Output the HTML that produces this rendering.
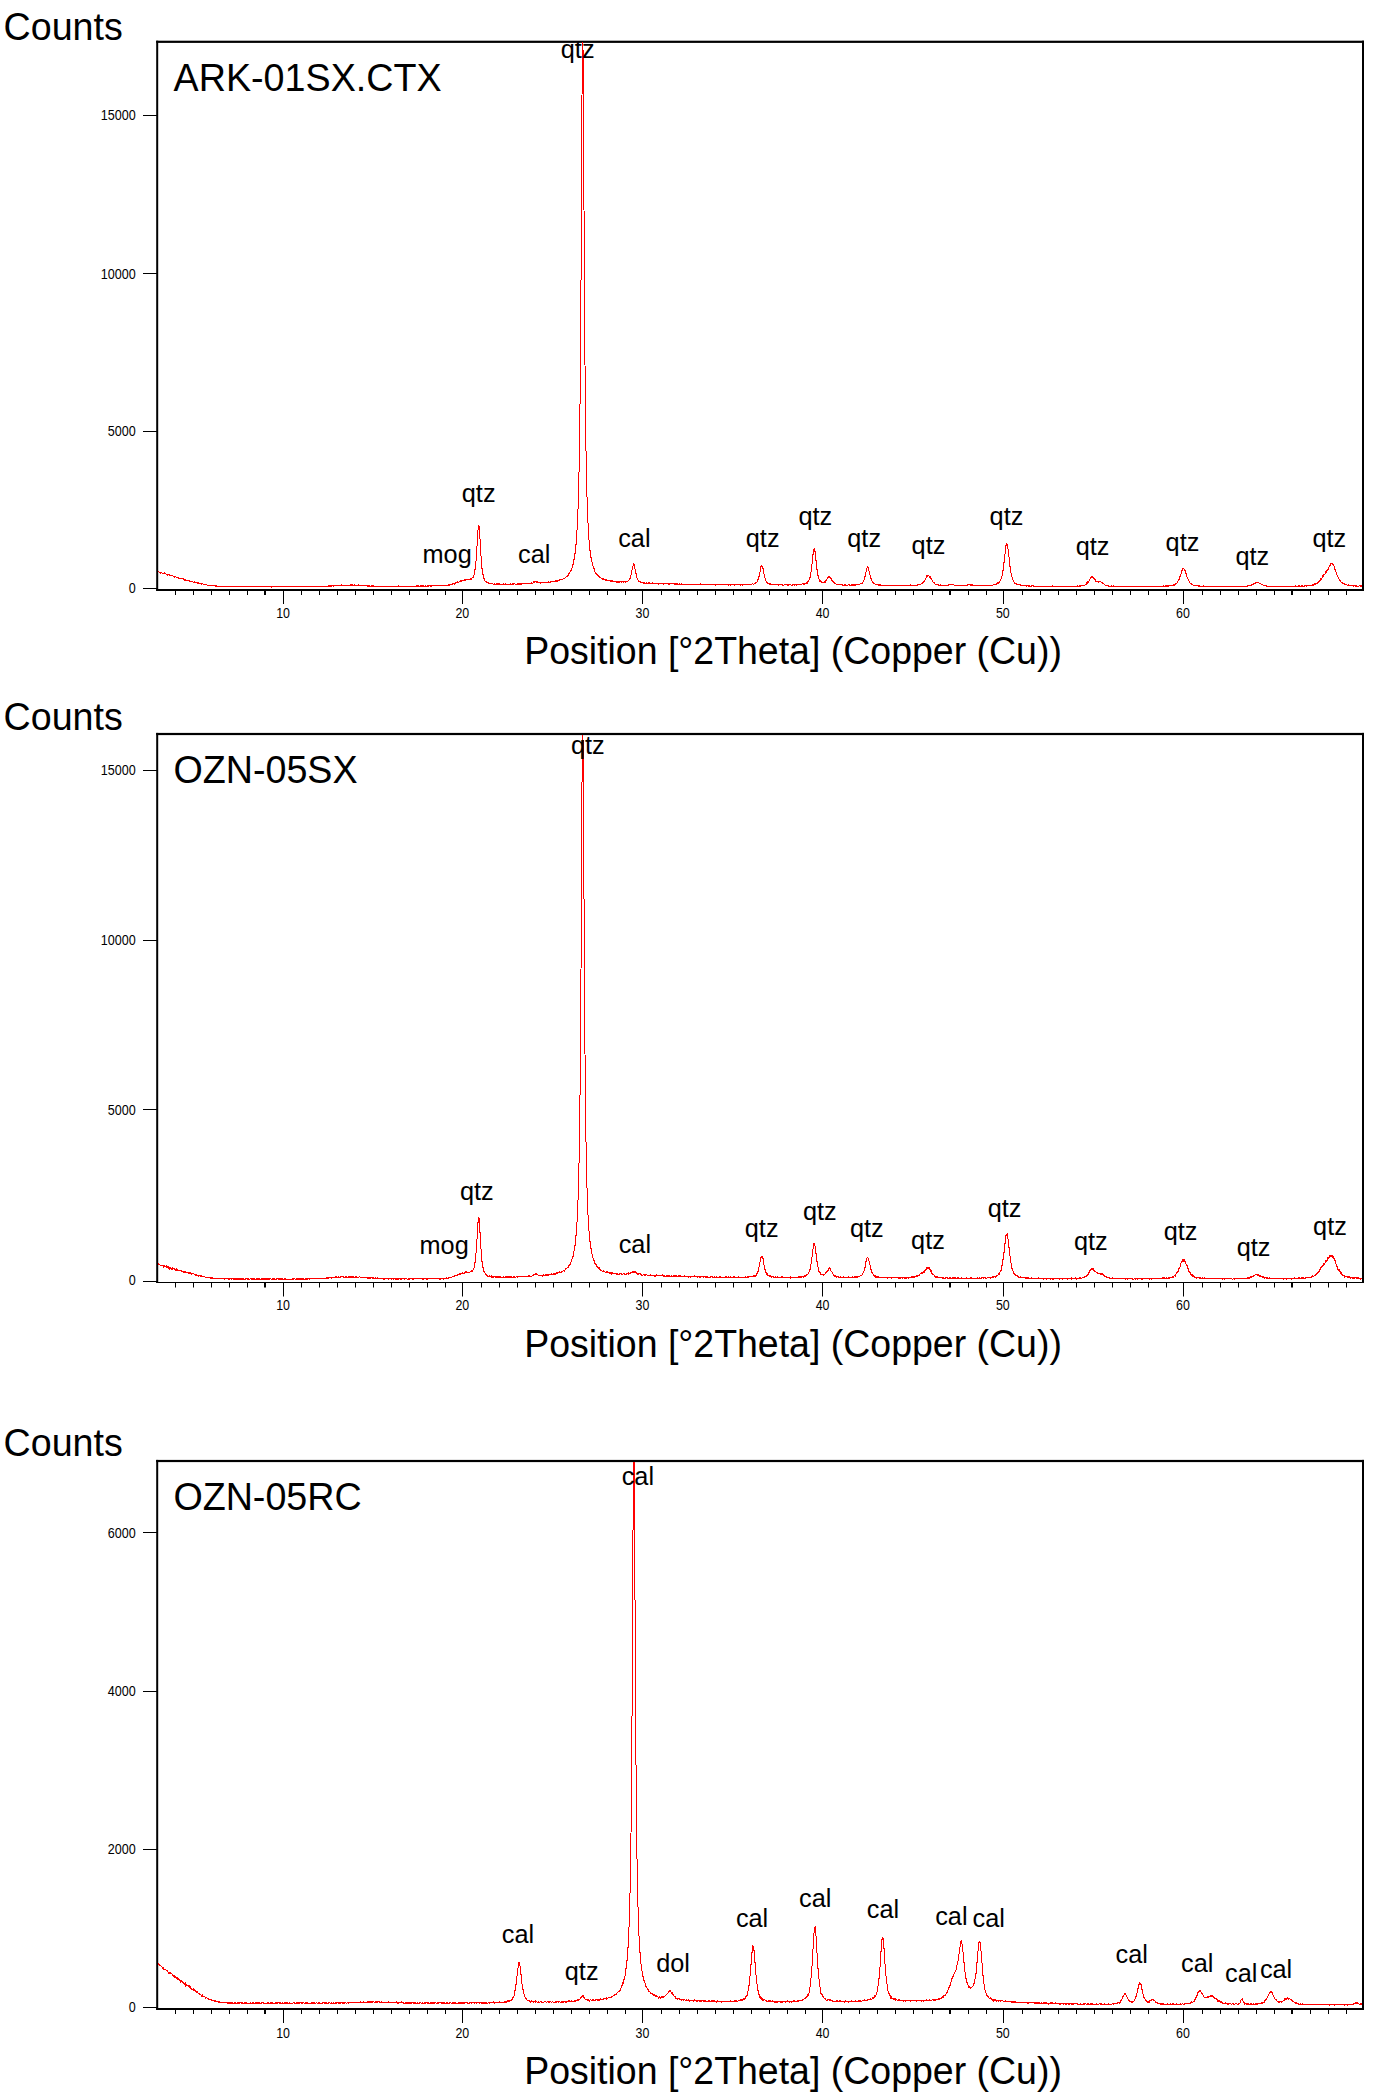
<!DOCTYPE html>
<html><head><meta charset="utf-8"><title>XRD patterns</title>
<style>
html,body{margin:0;padding:0;background:#fff;}
svg{display:block;font-family:'Liberation Sans', sans-serif;}
</style></head>
<body>
<svg width="1383" height="2100" viewBox="0 0 1383 2100" font-family='"Liberation Sans", sans-serif'>
<rect width="1383" height="2100" fill="#fff"/>
<rect x="156.2" y="40.7" width="1207.8" height="2.2" fill="#000"/>
<rect x="156.2" y="589" width="1207.8" height="2" fill="#000"/>
<rect x="156.2" y="40.7" width="2" height="550.3" fill="#000"/>
<rect x="1362.0" y="40.7" width="2" height="550.3" fill="#000"/>
<rect x="143" y="115" width="14" height="1" fill="#000"/>
<text x="100.7" y="120.1" font-size="15" textLength="35.0" lengthAdjust="spacingAndGlyphs" fill="#000">15000</text>
<rect x="143" y="273" width="14" height="1" fill="#000"/>
<text x="100.7" y="278.5" font-size="15" textLength="35.0" lengthAdjust="spacingAndGlyphs" fill="#000">10000</text>
<rect x="143" y="431" width="14" height="1" fill="#000"/>
<text x="107.7" y="436.0" font-size="15" textLength="28.0" lengthAdjust="spacingAndGlyphs" fill="#000">5000</text>
<rect x="143" y="588" width="14" height="1" fill="#000"/>
<text x="128.7" y="593.0" font-size="15" textLength="7.0" lengthAdjust="spacingAndGlyphs" fill="#000">0</text>
<rect x="175" y="590.0" width="1" height="5" fill="#000"/>
<rect x="193" y="590.0" width="1" height="5" fill="#000"/>
<rect x="211" y="590.0" width="1" height="5" fill="#000"/>
<rect x="229" y="590.0" width="1" height="5" fill="#000"/>
<rect x="247" y="590.0" width="1" height="5" fill="#000"/>
<rect x="264" y="590.0" width="2" height="5" fill="#000"/>
<rect x="283" y="590.0" width="1" height="14" fill="#000"/>
<text x="276.2" y="618.0" font-size="15" textLength="13.8" lengthAdjust="spacingAndGlyphs" fill="#000">10</text>
<rect x="301" y="590.0" width="1" height="5" fill="#000"/>
<rect x="319" y="590.0" width="1" height="5" fill="#000"/>
<rect x="337" y="590.0" width="1" height="5" fill="#000"/>
<rect x="355" y="590.0" width="1" height="5" fill="#000"/>
<rect x="373" y="590.0" width="1" height="5" fill="#000"/>
<rect x="391" y="590.0" width="1" height="5" fill="#000"/>
<rect x="409" y="590.0" width="1" height="5" fill="#000"/>
<rect x="427" y="590.0" width="1" height="5" fill="#000"/>
<rect x="445" y="590.0" width="1" height="5" fill="#000"/>
<rect x="462" y="590.0" width="1" height="14" fill="#000"/>
<text x="455.4" y="618.0" font-size="15" textLength="13.8" lengthAdjust="spacingAndGlyphs" fill="#000">20</text>
<rect x="481" y="590.0" width="1" height="5" fill="#000"/>
<rect x="499" y="590.0" width="1" height="5" fill="#000"/>
<rect x="517" y="590.0" width="1" height="5" fill="#000"/>
<rect x="535" y="590.0" width="1" height="5" fill="#000"/>
<rect x="553" y="590.0" width="1" height="5" fill="#000"/>
<rect x="571" y="590.0" width="1" height="5" fill="#000"/>
<rect x="589" y="590.0" width="1" height="5" fill="#000"/>
<rect x="607" y="590.0" width="1" height="5" fill="#000"/>
<rect x="625" y="590.0" width="1" height="5" fill="#000"/>
<rect x="642" y="590.0" width="1" height="14" fill="#000"/>
<text x="635.5" y="618.0" font-size="15" textLength="13.8" lengthAdjust="spacingAndGlyphs" fill="#000">30</text>
<rect x="661" y="590.0" width="1" height="5" fill="#000"/>
<rect x="679" y="590.0" width="1" height="5" fill="#000"/>
<rect x="697" y="590.0" width="1" height="5" fill="#000"/>
<rect x="715" y="590.0" width="1" height="5" fill="#000"/>
<rect x="733" y="590.0" width="1" height="5" fill="#000"/>
<rect x="751" y="590.0" width="1" height="5" fill="#000"/>
<rect x="769" y="590.0" width="1" height="5" fill="#000"/>
<rect x="787" y="590.0" width="1" height="5" fill="#000"/>
<rect x="805" y="590.0" width="1" height="5" fill="#000"/>
<rect x="822" y="590.0" width="1" height="14" fill="#000"/>
<text x="815.7" y="618.0" font-size="15" textLength="13.8" lengthAdjust="spacingAndGlyphs" fill="#000">40</text>
<rect x="841" y="590.0" width="1" height="5" fill="#000"/>
<rect x="859" y="590.0" width="1" height="5" fill="#000"/>
<rect x="877" y="590.0" width="1" height="5" fill="#000"/>
<rect x="895" y="590.0" width="1" height="5" fill="#000"/>
<rect x="913" y="590.0" width="1" height="5" fill="#000"/>
<rect x="932" y="590.0" width="1" height="5" fill="#000"/>
<rect x="949" y="590.0" width="2" height="5" fill="#000"/>
<rect x="968" y="590.0" width="1" height="5" fill="#000"/>
<rect x="986" y="590.0" width="1" height="5" fill="#000"/>
<rect x="1003" y="590.0" width="1" height="14" fill="#000"/>
<text x="995.9" y="618.0" font-size="15" textLength="13.8" lengthAdjust="spacingAndGlyphs" fill="#000">50</text>
<rect x="1022" y="590.0" width="1" height="5" fill="#000"/>
<rect x="1040" y="590.0" width="1" height="5" fill="#000"/>
<rect x="1058" y="590.0" width="1" height="5" fill="#000"/>
<rect x="1076" y="590.0" width="1" height="5" fill="#000"/>
<rect x="1094" y="590.0" width="1" height="5" fill="#000"/>
<rect x="1112" y="590.0" width="1" height="5" fill="#000"/>
<rect x="1130" y="590.0" width="1" height="5" fill="#000"/>
<rect x="1148" y="590.0" width="1" height="5" fill="#000"/>
<rect x="1166" y="590.0" width="1" height="5" fill="#000"/>
<rect x="1183" y="590.0" width="1" height="14" fill="#000"/>
<text x="1176.0" y="618.0" font-size="15" textLength="13.8" lengthAdjust="spacingAndGlyphs" fill="#000">60</text>
<rect x="1202" y="590.0" width="1" height="5" fill="#000"/>
<rect x="1220" y="590.0" width="1" height="5" fill="#000"/>
<rect x="1238" y="590.0" width="1" height="5" fill="#000"/>
<rect x="1256" y="590.0" width="1" height="5" fill="#000"/>
<rect x="1274" y="590.0" width="1" height="5" fill="#000"/>
<rect x="1291" y="590.0" width="2" height="5" fill="#000"/>
<rect x="1310" y="590.0" width="1" height="5" fill="#000"/>
<rect x="1328" y="590.0" width="1" height="5" fill="#000"/>
<rect x="1346" y="590.0" width="1" height="5" fill="#000"/>
<text x="3.6" y="39.8" font-size="38" text-anchor="start" textLength="119.2" lengthAdjust="spacingAndGlyphs">Counts</text>
<text x="173.6" y="91.0" font-size="38" text-anchor="start" textLength="268.0" lengthAdjust="spacingAndGlyphs">ARK-01SX.CTX</text>
<text x="524.2" y="664.0" font-size="38" text-anchor="start" textLength="537.7" lengthAdjust="spacingAndGlyphs">Position [°2Theta] (Copper (Cu))</text>
<polyline points="158.5,571.5 159.5,572.5 160.5,572.5 160.5,573.5 161.5,572.5 162.5,573.5 163.5,573.5 164.5,572.5 164.5,573.5 165.5,573.5 166.5,574.5 167.5,574.5 167.5,575.5 168.5,574.5 169.5,574.5 169.5,575.5 170.5,575.5 171.5,575.5 172.5,575.5 173.5,576.5 174.5,576.5 174.5,577.5 175.5,576.5 176.5,577.5 177.5,577.5 178.5,578.5 178.5,577.5 178.5,578.5 178.5,577.5 179.5,578.5 180.5,578.5 181.5,578.5 182.5,578.5 183.5,578.5 183.5,579.5 184.5,579.5 184.5,580.5 184.5,579.5 185.5,579.5 185.5,580.5 185.5,579.5 186.5,580.5 187.5,580.5 188.5,580.5 189.5,580.5 189.5,581.5 189.5,580.5 190.5,581.5 191.5,581.5 192.5,581.5 193.5,582.5 193.5,581.5 193.5,582.5 194.5,581.5 194.5,582.5 195.5,582.5 196.5,582.5 197.5,582.5 197.5,583.5 197.5,582.5 198.5,583.5 198.5,582.5 198.5,583.5 198.5,582.5 199.5,583.5 200.5,583.5 201.5,583.5 201.5,584.5 202.5,583.5 203.5,584.5 204.5,584.5 205.5,584.5 206.5,584.5 207.5,585.5 208.5,585.5 209.5,585.5 210.5,585.5 211.5,585.5 212.5,585.5 213.5,585.5 214.5,585.5 215.5,585.5 215.5,586.5 216.5,585.5 216.5,586.5 216.5,585.5 217.5,586.5 218.5,586.5 219.5,586.5 220.5,586.5 221.5,586.5 222.5,586.5 223.5,586.5 224.5,586.5 225.5,586.5 226.5,586.5 227.5,586.5 228.5,586.5 229.5,586.5 230.5,586.5 231.5,586.5 232.5,586.5 233.5,586.5 234.5,586.5 235.5,586.5 236.5,586.5 237.5,586.5 238.5,586.5 239.5,586.5 240.5,586.5 241.5,586.5 242.5,586.5 243.5,586.5 244.5,586.5 245.5,586.5 246.5,586.5 247.5,586.5 248.5,586.5 249.5,586.5 250.5,586.5 251.5,586.5 252.5,586.5 253.5,586.5 254.5,586.5 255.5,586.5 256.5,586.5 257.5,586.5 258.5,586.5 259.5,586.5 260.5,586.5 261.5,586.5 262.5,586.5 263.5,586.5 264.5,586.5 265.5,586.5 266.5,586.5 267.5,586.5 268.5,586.5 269.5,586.5 270.5,586.5 271.5,586.5 271.5,587.5 271.5,586.5 272.5,586.5 273.5,586.5 274.5,586.5 275.5,586.5 276.5,586.5 277.5,586.5 278.5,586.5 279.5,586.5 280.5,586.5 281.5,586.5 282.5,586.5 283.5,586.5 284.5,586.5 285.5,586.5 286.5,586.5 287.5,586.5 288.5,586.5 289.5,586.5 290.5,586.5 291.5,586.5 292.5,586.5 293.5,586.5 294.5,586.5 295.5,586.5 296.5,586.5 297.5,586.5 298.5,586.5 299.5,586.5 300.5,586.5 301.5,586.5 302.5,586.5 303.5,586.5 304.5,586.5 305.5,586.5 306.5,586.5 307.5,586.5 308.5,586.5 309.5,586.5 310.5,586.5 311.5,586.5 312.5,586.5 313.5,586.5 314.5,586.5 315.5,586.5 316.5,586.5 317.5,586.5 318.5,586.5 319.5,586.5 320.5,586.5 321.5,586.5 322.5,586.5 323.5,586.5 324.5,586.5 325.5,586.5 326.5,586.5 327.5,586.5 327.5,585.5 327.5,586.5 328.5,586.5 328.5,585.5 328.5,586.5 328.5,585.5 329.5,586.5 329.5,585.5 329.5,586.5 329.5,585.5 330.5,585.5 330.5,586.5 331.5,585.5 331.5,586.5 331.5,585.5 332.5,585.5 333.5,585.5 333.5,586.5 333.5,585.5 334.5,585.5 335.5,585.5 336.5,585.5 337.5,585.5 338.5,585.5 339.5,585.5 340.5,585.5 341.5,584.5 341.5,585.5 342.5,585.5 343.5,585.5 344.5,585.5 345.5,585.5 346.5,585.5 347.5,585.5 347.5,584.5 347.5,585.5 348.5,585.5 349.5,585.5 350.5,585.5 350.5,584.5 350.5,585.5 350.5,584.5 351.5,584.5 351.5,585.5 351.5,584.5 352.5,584.5 352.5,585.5 353.5,585.5 354.5,584.5 354.5,585.5 355.5,585.5 355.5,584.5 355.5,585.5 356.5,585.5 357.5,585.5 358.5,584.5 358.5,585.5 359.5,585.5 360.5,585.5 361.5,585.5 362.5,585.5 363.5,585.5 364.5,585.5 365.5,585.5 366.5,585.5 367.5,585.5 367.5,586.5 367.5,585.5 368.5,585.5 368.5,586.5 368.5,585.5 369.5,585.5 369.5,586.5 370.5,586.5 371.5,586.5 371.5,585.5 371.5,586.5 371.5,585.5 372.5,586.5 372.5,585.5 372.5,586.5 372.5,585.5 373.5,585.5 373.5,586.5 374.5,586.5 375.5,586.5 376.5,586.5 377.5,586.5 378.5,586.5 379.5,586.5 380.5,586.5 381.5,586.5 382.5,586.5 383.5,586.5 384.5,586.5 385.5,586.5 386.5,586.5 387.5,586.5 388.5,586.5 389.5,586.5 390.5,586.5 391.5,586.5 392.5,586.5 393.5,586.5 394.5,586.5 395.5,586.5 396.5,586.5 397.5,586.5 398.5,585.5 398.5,586.5 399.5,586.5 400.5,586.5 401.5,586.5 401.5,585.5 401.5,586.5 402.5,586.5 403.5,586.5 404.5,586.5 405.5,586.5 406.5,586.5 407.5,586.5 408.5,586.5 409.5,586.5 409.5,585.5 409.5,586.5 410.5,586.5 411.5,586.5 412.5,586.5 412.5,585.5 412.5,586.5 413.5,586.5 414.5,586.5 415.5,586.5 415.5,585.5 415.5,586.5 416.5,586.5 416.5,585.5 416.5,586.5 416.5,585.5 417.5,585.5 417.5,586.5 418.5,586.5 418.5,585.5 418.5,586.5 418.5,585.5 419.5,586.5 419.5,585.5 419.5,586.5 420.5,586.5 420.5,585.5 420.5,586.5 420.5,585.5 421.5,586.5 421.5,585.5 421.5,586.5 421.5,585.5 422.5,585.5 422.5,586.5 422.5,585.5 423.5,585.5 423.5,586.5 423.5,585.5 424.5,586.5 424.5,585.5 424.5,586.5 425.5,585.5 425.5,586.5 426.5,586.5 426.5,585.5 426.5,586.5 427.5,585.5 427.5,586.5 427.5,585.5 428.5,586.5 428.5,585.5 428.5,586.5 428.5,585.5 429.5,585.5 430.5,585.5 430.5,586.5 431.5,585.5 431.5,586.5 432.5,585.5 433.5,585.5 434.5,585.5 435.5,585.5 436.5,585.5 437.5,585.5 438.5,585.5 439.5,585.5 440.5,585.5 441.5,585.5 442.5,585.5 443.5,585.5 444.5,585.5 445.5,585.5 446.5,585.5 447.5,585.5 447.5,584.5 447.5,585.5 448.5,585.5 448.5,584.5 448.5,585.5 448.5,584.5 449.5,584.5 449.5,585.5 449.5,584.5 450.5,584.5 451.5,584.5 452.5,584.5 452.5,583.5 452.5,584.5 452.5,583.5 453.5,583.5 454.5,583.5 454.5,584.5 454.5,583.5 455.5,583.5 455.5,582.5 455.5,583.5 455.5,582.5 456.5,582.5 457.5,582.5 457.5,581.5 457.5,582.5 457.5,581.5 458.5,582.5 458.5,581.5 458.5,582.5 459.5,581.5 460.5,581.5 460.5,580.5 460.5,581.5 460.5,580.5 461.5,581.5 461.5,580.5 461.5,581.5 461.5,580.5 462.5,580.5 463.5,580.5 464.5,579.5 464.5,580.5 465.5,579.5 465.5,580.5 466.5,579.5 467.5,579.5 468.5,579.5 469.5,579.5 470.5,579.5 470.5,578.5 470.5,579.5 470.5,578.5 471.5,579.5 471.5,578.5 471.5,579.5 471.5,578.5 472.5,577.5 473.5,577.5 473.5,575.5 473.5,577.5 473.5,575.5 474.5,574.5 474.5,570.5 474.5,574.5 474.5,570.5 475.5,568.5 475.5,563.5 475.5,568.5 475.5,563.5 476.5,558.5 476.5,548.5 476.5,558.5 476.5,548.5 477.5,543.5 477.5,532.5 477.5,543.5 477.5,532.5 478.5,527.5 478.5,524.5 478.5,527.5 478.5,525.5 479.5,526.5 479.5,536.5 480.5,541.5 480.5,553.5 481.5,558.5 481.5,566.5 482.5,570.5 482.5,573.5 483.5,575.5 483.5,578.5 484.5,578.5 484.5,580.5 485.5,581.5 486.5,581.5 486.5,582.5 487.5,582.5 488.5,582.5 488.5,583.5 489.5,583.5 490.5,583.5 491.5,583.5 492.5,583.5 493.5,584.5 494.5,584.5 494.5,583.5 494.5,584.5 494.5,583.5 495.5,584.5 495.5,583.5 495.5,584.5 496.5,583.5 496.5,584.5 496.5,583.5 497.5,584.5 497.5,583.5 497.5,584.5 497.5,583.5 498.5,583.5 498.5,584.5 499.5,583.5 499.5,584.5 500.5,584.5 501.5,584.5 501.5,583.5 501.5,584.5 502.5,584.5 503.5,583.5 503.5,584.5 504.5,584.5 505.5,584.5 505.5,583.5 505.5,584.5 505.5,583.5 506.5,584.5 507.5,584.5 507.5,583.5 507.5,584.5 508.5,584.5 509.5,584.5 509.5,583.5 509.5,584.5 510.5,584.5 510.5,583.5 510.5,584.5 510.5,583.5 511.5,584.5 511.5,583.5 511.5,584.5 512.5,584.5 512.5,583.5 512.5,584.5 512.5,583.5 513.5,583.5 513.5,584.5 514.5,583.5 515.5,584.5 515.5,583.5 515.5,584.5 516.5,584.5 517.5,584.5 517.5,583.5 517.5,584.5 517.5,583.5 518.5,583.5 518.5,584.5 519.5,583.5 519.5,584.5 519.5,583.5 520.5,583.5 520.5,584.5 521.5,584.5 521.5,583.5 521.5,584.5 521.5,583.5 522.5,583.5 523.5,583.5 524.5,583.5 525.5,583.5 526.5,583.5 527.5,583.5 528.5,583.5 529.5,583.5 530.5,583.5 531.5,583.5 531.5,582.5 531.5,583.5 531.5,582.5 532.5,583.5 532.5,582.5 532.5,583.5 533.5,582.5 533.5,581.5 533.5,582.5 533.5,581.5 534.5,581.5 534.5,582.5 534.5,581.5 535.5,581.5 536.5,581.5 536.5,582.5 537.5,581.5 537.5,582.5 537.5,581.5 538.5,582.5 539.5,582.5 540.5,583.5 540.5,582.5 540.5,583.5 540.5,582.5 541.5,582.5 542.5,582.5 543.5,582.5 544.5,582.5 545.5,582.5 545.5,581.5 545.5,582.5 546.5,582.5 547.5,582.5 547.5,581.5 547.5,582.5 548.5,581.5 548.5,582.5 549.5,582.5 550.5,581.5 550.5,582.5 550.5,581.5 551.5,581.5 552.5,581.5 553.5,581.5 554.5,581.5 555.5,581.5 555.5,580.5 555.5,581.5 555.5,580.5 556.5,580.5 556.5,581.5 556.5,580.5 557.5,581.5 557.5,580.5 557.5,581.5 557.5,580.5 558.5,580.5 559.5,580.5 559.5,579.5 559.5,580.5 559.5,579.5 560.5,579.5 561.5,579.5 562.5,579.5 563.5,578.5 564.5,578.5 564.5,577.5 564.5,578.5 565.5,577.5 566.5,576.5 567.5,575.5 567.5,576.5 567.5,575.5 568.5,575.5 568.5,573.5 568.5,575.5 568.5,573.5 569.5,573.5 569.5,572.5 569.5,573.5 569.5,572.5 570.5,571.5 571.5,569.5 571.5,568.5 571.5,569.5 571.5,568.5 572.5,567.5 572.5,565.5 572.5,567.5 572.5,566.5 573.5,562.5 573.5,560.5 573.5,562.5 573.5,560.5 574.5,558.5 574.5,555.5 574.5,558.5 574.5,555.5 575.5,551.5 575.5,546.5 575.5,551.5 575.5,546.5 576.5,542.5 576.5,533.5 576.5,542.5 576.5,533.5 577.5,527.5 577.5,513.5 577.5,527.5 577.5,513.5 578.5,505.5 578.5,480.5 578.5,505.5 578.5,480.5 579.5,464.5 579.5,419.5 579.5,464.5 579.5,419.5 580.5,389.5 580.5,307.5 580.5,389.5 580.5,307.5 581.5,253.5 581.5,124.5 581.5,253.5 581.5,124.5 582.5,66.5 582.5,42.5 582.5,66.5 582.5,42.5 583.5,57.5 583.5,178.5 584.5,241.5 584.5,345.5 585.5,384.5 585.5,440.5 586.5,460.5 586.5,490.5 587.5,502.5 587.5,519.5 588.5,525.5 588.5,537.5 589.5,542.5 589.5,548.5 590.5,552.5 590.5,556.5 591.5,558.5 591.5,561.5 592.5,562.5 592.5,565.5 593.5,566.5 593.5,568.5 594.5,568.5 594.5,571.5 595.5,572.5 595.5,571.5 595.5,573.5 596.5,573.5 596.5,574.5 597.5,574.5 597.5,575.5 598.5,575.5 598.5,576.5 599.5,576.5 599.5,577.5 599.5,576.5 600.5,577.5 601.5,578.5 602.5,579.5 602.5,578.5 602.5,579.5 602.5,578.5 603.5,578.5 603.5,579.5 604.5,579.5 605.5,579.5 605.5,580.5 606.5,579.5 606.5,580.5 607.5,580.5 608.5,580.5 609.5,580.5 610.5,580.5 610.5,581.5 611.5,581.5 611.5,580.5 611.5,581.5 611.5,580.5 612.5,580.5 612.5,581.5 613.5,581.5 614.5,581.5 615.5,581.5 616.5,581.5 616.5,582.5 616.5,581.5 617.5,581.5 617.5,582.5 618.5,582.5 618.5,581.5 618.5,582.5 618.5,581.5 619.5,581.5 619.5,582.5 620.5,581.5 621.5,581.5 621.5,582.5 622.5,581.5 623.5,582.5 623.5,581.5 623.5,582.5 623.5,581.5 624.5,581.5 625.5,582.5 625.5,581.5 625.5,582.5 625.5,581.5 626.5,581.5 627.5,581.5 628.5,580.5 629.5,579.5 630.5,577.5 630.5,575.5 630.5,577.5 630.5,575.5 631.5,574.5 631.5,570.5 631.5,574.5 631.5,570.5 632.5,569.5 632.5,566.5 632.5,569.5 632.5,566.5 633.5,565.5 633.5,563.5 633.5,565.5 633.5,563.5 634.5,565.5 634.5,568.5 635.5,569.5 635.5,572.5 636.5,574.5 636.5,577.5 637.5,578.5 637.5,579.5 638.5,580.5 638.5,581.5 639.5,581.5 640.5,582.5 640.5,581.5 640.5,582.5 640.5,581.5 641.5,582.5 642.5,582.5 643.5,582.5 643.5,583.5 644.5,582.5 644.5,583.5 645.5,583.5 646.5,582.5 646.5,583.5 647.5,583.5 647.5,582.5 647.5,583.5 648.5,582.5 648.5,583.5 649.5,583.5 649.5,582.5 649.5,583.5 649.5,582.5 650.5,583.5 651.5,583.5 652.5,583.5 652.5,582.5 652.5,583.5 652.5,582.5 653.5,583.5 654.5,583.5 655.5,583.5 656.5,583.5 657.5,583.5 658.5,583.5 658.5,584.5 659.5,583.5 660.5,583.5 661.5,583.5 662.5,583.5 663.5,583.5 663.5,584.5 664.5,583.5 665.5,583.5 666.5,583.5 667.5,583.5 668.5,583.5 668.5,584.5 668.5,583.5 669.5,583.5 669.5,584.5 669.5,583.5 670.5,583.5 671.5,583.5 672.5,583.5 673.5,583.5 674.5,583.5 674.5,584.5 675.5,584.5 675.5,583.5 675.5,584.5 675.5,583.5 676.5,583.5 676.5,584.5 677.5,583.5 677.5,584.5 678.5,584.5 679.5,584.5 679.5,583.5 679.5,584.5 679.5,583.5 680.5,584.5 681.5,583.5 681.5,584.5 682.5,584.5 682.5,583.5 682.5,584.5 683.5,584.5 684.5,584.5 685.5,584.5 686.5,584.5 687.5,584.5 688.5,584.5 689.5,584.5 690.5,584.5 691.5,584.5 692.5,584.5 693.5,584.5 694.5,584.5 695.5,584.5 696.5,584.5 697.5,584.5 698.5,584.5 699.5,584.5 700.5,583.5 700.5,584.5 701.5,584.5 702.5,584.5 703.5,584.5 704.5,584.5 705.5,584.5 706.5,584.5 707.5,584.5 708.5,584.5 709.5,584.5 710.5,584.5 711.5,584.5 712.5,584.5 713.5,584.5 714.5,584.5 715.5,585.5 715.5,584.5 715.5,585.5 715.5,584.5 716.5,584.5 717.5,584.5 718.5,584.5 719.5,584.5 720.5,584.5 721.5,584.5 722.5,584.5 723.5,584.5 724.5,584.5 725.5,584.5 726.5,584.5 727.5,584.5 728.5,584.5 728.5,585.5 729.5,584.5 730.5,584.5 730.5,585.5 731.5,584.5 732.5,584.5 733.5,584.5 734.5,585.5 734.5,584.5 734.5,585.5 734.5,584.5 735.5,584.5 736.5,584.5 737.5,584.5 738.5,584.5 739.5,584.5 740.5,584.5 740.5,585.5 741.5,584.5 742.5,584.5 742.5,585.5 743.5,584.5 744.5,584.5 745.5,584.5 746.5,584.5 747.5,584.5 748.5,584.5 749.5,584.5 750.5,584.5 751.5,584.5 752.5,583.5 753.5,584.5 753.5,583.5 753.5,584.5 754.5,583.5 755.5,583.5 755.5,582.5 755.5,583.5 755.5,582.5 756.5,582.5 757.5,581.5 757.5,579.5 757.5,581.5 757.5,579.5 758.5,579.5 758.5,577.5 758.5,579.5 758.5,577.5 759.5,575.5 759.5,572.5 759.5,575.5 759.5,572.5 760.5,571.5 760.5,566.5 760.5,571.5 760.5,566.5 761.5,565.5 761.5,566.5 762.5,566.5 762.5,567.5 763.5,569.5 763.5,573.5 764.5,574.5 764.5,577.5 765.5,578.5 765.5,580.5 766.5,581.5 766.5,582.5 766.5,581.5 767.5,582.5 767.5,583.5 768.5,583.5 769.5,583.5 769.5,584.5 770.5,583.5 770.5,584.5 771.5,584.5 772.5,584.5 773.5,584.5 774.5,584.5 775.5,584.5 776.5,584.5 777.5,584.5 778.5,585.5 778.5,584.5 778.5,585.5 778.5,584.5 779.5,584.5 780.5,584.5 781.5,584.5 782.5,584.5 782.5,585.5 783.5,585.5 784.5,584.5 785.5,584.5 786.5,584.5 787.5,585.5 787.5,584.5 787.5,585.5 787.5,584.5 788.5,584.5 788.5,585.5 788.5,584.5 789.5,584.5 790.5,584.5 791.5,585.5 791.5,584.5 791.5,585.5 792.5,584.5 792.5,585.5 792.5,584.5 793.5,584.5 794.5,584.5 794.5,585.5 794.5,584.5 795.5,584.5 796.5,585.5 796.5,584.5 796.5,585.5 796.5,584.5 797.5,584.5 798.5,584.5 799.5,584.5 800.5,584.5 801.5,584.5 802.5,583.5 803.5,583.5 803.5,584.5 803.5,583.5 804.5,584.5 804.5,583.5 804.5,584.5 804.5,583.5 805.5,583.5 806.5,582.5 806.5,583.5 807.5,583.5 807.5,581.5 807.5,583.5 807.5,581.5 808.5,581.5 808.5,580.5 808.5,581.5 808.5,580.5 809.5,579.5 809.5,578.5 809.5,579.5 809.5,578.5 810.5,576.5 810.5,573.5 810.5,576.5 810.5,573.5 811.5,570.5 811.5,565.5 811.5,570.5 811.5,565.5 812.5,562.5 812.5,555.5 812.5,562.5 812.5,555.5 813.5,553.5 813.5,549.5 813.5,553.5 813.5,549.5 814.5,548.5 814.5,550.5 815.5,552.5 815.5,558.5 816.5,562.5 816.5,568.5 817.5,570.5 817.5,574.5 818.5,576.5 818.5,578.5 819.5,579.5 819.5,581.5 820.5,580.5 820.5,581.5 821.5,581.5 821.5,582.5 822.5,582.5 823.5,582.5 824.5,582.5 824.5,581.5 824.5,582.5 824.5,581.5 825.5,582.5 825.5,580.5 825.5,582.5 825.5,580.5 826.5,580.5 826.5,579.5 826.5,580.5 826.5,579.5 827.5,578.5 827.5,577.5 827.5,578.5 827.5,577.5 828.5,577.5 828.5,576.5 828.5,577.5 828.5,576.5 829.5,576.5 829.5,577.5 829.5,576.5 830.5,577.5 830.5,578.5 831.5,578.5 831.5,580.5 832.5,580.5 832.5,581.5 833.5,581.5 833.5,582.5 834.5,582.5 834.5,583.5 835.5,583.5 836.5,584.5 837.5,584.5 838.5,584.5 839.5,584.5 840.5,584.5 841.5,584.5 842.5,584.5 842.5,585.5 842.5,584.5 843.5,585.5 843.5,584.5 843.5,585.5 844.5,584.5 844.5,585.5 845.5,585.5 845.5,584.5 845.5,585.5 845.5,584.5 846.5,585.5 847.5,585.5 847.5,584.5 847.5,585.5 848.5,584.5 849.5,585.5 849.5,584.5 849.5,585.5 849.5,584.5 850.5,585.5 850.5,584.5 850.5,585.5 851.5,584.5 851.5,585.5 852.5,584.5 852.5,585.5 853.5,584.5 853.5,585.5 853.5,584.5 854.5,584.5 854.5,585.5 854.5,584.5 855.5,584.5 855.5,585.5 856.5,584.5 857.5,584.5 858.5,584.5 859.5,584.5 860.5,583.5 861.5,583.5 862.5,583.5 862.5,582.5 862.5,583.5 862.5,582.5 863.5,581.5 863.5,580.5 863.5,581.5 863.5,580.5 864.5,579.5 864.5,577.5 864.5,579.5 864.5,577.5 865.5,575.5 865.5,572.5 865.5,575.5 865.5,572.5 866.5,571.5 866.5,568.5 866.5,571.5 866.5,568.5 867.5,567.5 867.5,566.5 867.5,567.5 867.5,566.5 868.5,567.5 868.5,570.5 869.5,571.5 869.5,574.5 870.5,575.5 870.5,577.5 871.5,579.5 871.5,580.5 872.5,581.5 872.5,582.5 873.5,582.5 873.5,583.5 874.5,583.5 875.5,584.5 876.5,584.5 877.5,584.5 878.5,584.5 878.5,585.5 879.5,584.5 879.5,585.5 880.5,584.5 880.5,585.5 881.5,585.5 882.5,585.5 883.5,585.5 884.5,585.5 885.5,585.5 886.5,585.5 887.5,585.5 888.5,585.5 889.5,585.5 890.5,585.5 891.5,585.5 892.5,585.5 893.5,585.5 894.5,585.5 895.5,585.5 896.5,585.5 897.5,585.5 898.5,585.5 899.5,585.5 900.5,585.5 901.5,585.5 902.5,585.5 903.5,585.5 904.5,585.5 905.5,585.5 906.5,585.5 907.5,585.5 908.5,585.5 909.5,585.5 910.5,585.5 910.5,584.5 910.5,585.5 910.5,584.5 911.5,585.5 911.5,584.5 911.5,585.5 912.5,585.5 913.5,585.5 914.5,585.5 915.5,585.5 916.5,585.5 917.5,585.5 917.5,584.5 917.5,585.5 917.5,584.5 918.5,584.5 919.5,584.5 920.5,584.5 921.5,583.5 922.5,583.5 922.5,582.5 922.5,583.5 922.5,582.5 923.5,582.5 923.5,581.5 923.5,582.5 923.5,581.5 924.5,580.5 924.5,581.5 924.5,580.5 925.5,579.5 925.5,578.5 925.5,579.5 925.5,578.5 926.5,577.5 926.5,575.5 926.5,577.5 926.5,575.5 927.5,576.5 927.5,575.5 927.5,576.5 927.5,575.5 928.5,575.5 929.5,576.5 929.5,577.5 930.5,576.5 930.5,578.5 931.5,578.5 931.5,579.5 932.5,580.5 932.5,581.5 933.5,582.5 933.5,581.5 933.5,582.5 934.5,582.5 934.5,583.5 935.5,584.5 935.5,583.5 935.5,584.5 936.5,584.5 937.5,584.5 938.5,584.5 938.5,585.5 939.5,585.5 939.5,584.5 939.5,585.5 940.5,585.5 940.5,584.5 940.5,585.5 940.5,584.5 941.5,585.5 942.5,585.5 943.5,585.5 944.5,585.5 945.5,585.5 946.5,585.5 947.5,585.5 948.5,584.5 948.5,585.5 949.5,584.5 950.5,584.5 951.5,584.5 952.5,584.5 953.5,584.5 954.5,585.5 954.5,584.5 954.5,585.5 955.5,585.5 956.5,585.5 957.5,585.5 958.5,585.5 959.5,585.5 960.5,585.5 961.5,585.5 962.5,585.5 963.5,585.5 964.5,585.5 965.5,585.5 966.5,585.5 967.5,585.5 967.5,584.5 967.5,585.5 967.5,584.5 968.5,584.5 969.5,584.5 970.5,584.5 970.5,585.5 971.5,585.5 971.5,584.5 971.5,585.5 971.5,584.5 972.5,584.5 972.5,585.5 973.5,585.5 974.5,585.5 975.5,585.5 976.5,585.5 977.5,585.5 978.5,585.5 979.5,585.5 980.5,585.5 981.5,585.5 982.5,585.5 983.5,585.5 984.5,585.5 985.5,585.5 986.5,585.5 987.5,585.5 988.5,585.5 989.5,585.5 990.5,585.5 991.5,585.5 992.5,585.5 993.5,584.5 994.5,584.5 995.5,584.5 996.5,584.5 996.5,583.5 996.5,584.5 996.5,583.5 997.5,583.5 997.5,582.5 997.5,583.5 997.5,582.5 998.5,583.5 998.5,582.5 998.5,583.5 998.5,582.5 999.5,582.5 999.5,581.5 999.5,582.5 999.5,581.5 1000.5,580.5 1000.5,579.5 1000.5,580.5 1000.5,579.5 1001.5,578.5 1001.5,576.5 1001.5,578.5 1001.5,576.5 1002.5,575.5 1002.5,571.5 1002.5,575.5 1002.5,571.5 1003.5,569.5 1003.5,564.5 1003.5,569.5 1003.5,564.5 1004.5,560.5 1004.5,556.5 1004.5,560.5 1004.5,556.5 1005.5,551.5 1005.5,546.5 1005.5,551.5 1005.5,546.5 1006.5,544.5 1006.5,543.5 1006.5,544.5 1006.5,543.5 1007.5,544.5 1007.5,547.5 1008.5,550.5 1008.5,555.5 1009.5,558.5 1009.5,565.5 1010.5,567.5 1010.5,571.5 1011.5,574.5 1011.5,576.5 1012.5,577.5 1012.5,579.5 1013.5,580.5 1013.5,581.5 1014.5,582.5 1014.5,583.5 1015.5,583.5 1016.5,583.5 1016.5,584.5 1016.5,583.5 1017.5,584.5 1018.5,584.5 1019.5,584.5 1020.5,584.5 1020.5,585.5 1021.5,585.5 1022.5,585.5 1023.5,585.5 1024.5,585.5 1025.5,585.5 1026.5,586.5 1026.5,585.5 1026.5,586.5 1026.5,585.5 1027.5,585.5 1028.5,585.5 1028.5,586.5 1028.5,585.5 1029.5,585.5 1029.5,586.5 1029.5,585.5 1030.5,586.5 1030.5,585.5 1030.5,586.5 1031.5,585.5 1031.5,586.5 1032.5,585.5 1033.5,586.5 1033.5,585.5 1033.5,586.5 1033.5,585.5 1034.5,586.5 1035.5,586.5 1036.5,586.5 1037.5,586.5 1038.5,586.5 1039.5,586.5 1040.5,586.5 1041.5,586.5 1042.5,586.5 1043.5,586.5 1044.5,586.5 1045.5,586.5 1046.5,586.5 1047.5,586.5 1048.5,586.5 1049.5,586.5 1050.5,586.5 1051.5,586.5 1052.5,585.5 1052.5,586.5 1053.5,586.5 1054.5,586.5 1055.5,586.5 1056.5,586.5 1057.5,586.5 1058.5,586.5 1059.5,586.5 1060.5,586.5 1061.5,586.5 1062.5,586.5 1063.5,586.5 1064.5,586.5 1065.5,586.5 1066.5,586.5 1067.5,586.5 1068.5,586.5 1069.5,586.5 1070.5,586.5 1071.5,586.5 1072.5,586.5 1073.5,586.5 1074.5,586.5 1075.5,586.5 1076.5,586.5 1077.5,586.5 1077.5,585.5 1077.5,586.5 1077.5,585.5 1078.5,586.5 1078.5,585.5 1078.5,586.5 1079.5,585.5 1079.5,586.5 1080.5,585.5 1080.5,586.5 1080.5,585.5 1081.5,585.5 1082.5,585.5 1083.5,585.5 1084.5,585.5 1085.5,584.5 1086.5,584.5 1086.5,582.5 1086.5,584.5 1086.5,582.5 1087.5,583.5 1087.5,581.5 1087.5,583.5 1087.5,581.5 1088.5,582.5 1088.5,581.5 1088.5,582.5 1088.5,581.5 1089.5,580.5 1089.5,579.5 1089.5,580.5 1089.5,579.5 1090.5,578.5 1090.5,577.5 1090.5,578.5 1090.5,577.5 1091.5,577.5 1091.5,576.5 1091.5,577.5 1091.5,576.5 1092.5,576.5 1092.5,577.5 1093.5,578.5 1093.5,577.5 1093.5,578.5 1093.5,577.5 1094.5,579.5 1094.5,578.5 1094.5,579.5 1095.5,579.5 1095.5,581.5 1096.5,581.5 1097.5,581.5 1098.5,582.5 1098.5,581.5 1098.5,582.5 1098.5,581.5 1099.5,581.5 1100.5,581.5 1101.5,582.5 1102.5,582.5 1102.5,583.5 1103.5,583.5 1104.5,584.5 1105.5,585.5 1105.5,584.5 1105.5,585.5 1106.5,585.5 1107.5,585.5 1108.5,585.5 1108.5,586.5 1108.5,585.5 1109.5,586.5 1110.5,586.5 1111.5,585.5 1111.5,586.5 1112.5,586.5 1113.5,585.5 1113.5,586.5 1114.5,586.5 1115.5,586.5 1116.5,586.5 1117.5,586.5 1118.5,586.5 1119.5,586.5 1120.5,586.5 1121.5,586.5 1122.5,586.5 1123.5,586.5 1124.5,586.5 1125.5,586.5 1126.5,586.5 1127.5,586.5 1128.5,586.5 1129.5,586.5 1130.5,586.5 1131.5,586.5 1132.5,586.5 1133.5,586.5 1134.5,586.5 1135.5,586.5 1136.5,586.5 1137.5,586.5 1138.5,586.5 1139.5,586.5 1140.5,586.5 1141.5,586.5 1142.5,586.5 1143.5,586.5 1144.5,586.5 1145.5,586.5 1146.5,586.5 1147.5,586.5 1148.5,586.5 1149.5,586.5 1150.5,586.5 1151.5,586.5 1152.5,586.5 1153.5,586.5 1154.5,586.5 1155.5,586.5 1156.5,586.5 1157.5,586.5 1158.5,586.5 1159.5,586.5 1160.5,586.5 1161.5,586.5 1162.5,586.5 1162.5,585.5 1162.5,586.5 1163.5,586.5 1163.5,585.5 1163.5,586.5 1163.5,585.5 1164.5,586.5 1165.5,586.5 1165.5,585.5 1165.5,586.5 1165.5,585.5 1166.5,585.5 1166.5,586.5 1167.5,585.5 1167.5,586.5 1167.5,585.5 1168.5,586.5 1168.5,585.5 1168.5,586.5 1168.5,585.5 1169.5,585.5 1170.5,585.5 1171.5,585.5 1172.5,585.5 1173.5,585.5 1173.5,584.5 1173.5,585.5 1173.5,584.5 1174.5,584.5 1174.5,585.5 1174.5,584.5 1175.5,584.5 1175.5,583.5 1175.5,584.5 1175.5,583.5 1176.5,583.5 1177.5,582.5 1177.5,581.5 1177.5,582.5 1177.5,581.5 1178.5,580.5 1179.5,578.5 1179.5,577.5 1179.5,578.5 1179.5,577.5 1180.5,575.5 1180.5,574.5 1180.5,575.5 1180.5,574.5 1181.5,573.5 1181.5,571.5 1181.5,573.5 1181.5,571.5 1182.5,569.5 1182.5,568.5 1182.5,569.5 1182.5,568.5 1183.5,568.5 1184.5,569.5 1185.5,571.5 1185.5,573.5 1186.5,573.5 1186.5,576.5 1187.5,577.5 1187.5,578.5 1188.5,579.5 1188.5,580.5 1189.5,581.5 1189.5,582.5 1190.5,583.5 1191.5,583.5 1191.5,584.5 1192.5,584.5 1193.5,585.5 1194.5,585.5 1195.5,585.5 1196.5,585.5 1197.5,585.5 1198.5,585.5 1198.5,586.5 1199.5,586.5 1199.5,585.5 1199.5,586.5 1199.5,585.5 1200.5,586.5 1201.5,586.5 1201.5,585.5 1201.5,586.5 1202.5,586.5 1203.5,585.5 1203.5,586.5 1204.5,586.5 1205.5,586.5 1206.5,586.5 1207.5,586.5 1207.5,585.5 1207.5,586.5 1208.5,586.5 1209.5,586.5 1210.5,586.5 1211.5,586.5 1212.5,586.5 1213.5,586.5 1214.5,586.5 1215.5,586.5 1216.5,586.5 1217.5,586.5 1218.5,586.5 1219.5,586.5 1220.5,586.5 1221.5,586.5 1222.5,586.5 1223.5,586.5 1224.5,586.5 1225.5,586.5 1226.5,586.5 1227.5,586.5 1228.5,586.5 1229.5,586.5 1230.5,586.5 1231.5,586.5 1232.5,586.5 1233.5,586.5 1234.5,586.5 1235.5,586.5 1236.5,586.5 1237.5,586.5 1238.5,586.5 1239.5,586.5 1240.5,586.5 1241.5,586.5 1242.5,586.5 1243.5,586.5 1244.5,586.5 1245.5,586.5 1246.5,586.5 1247.5,585.5 1247.5,586.5 1247.5,585.5 1248.5,585.5 1249.5,585.5 1250.5,585.5 1251.5,585.5 1251.5,584.5 1251.5,585.5 1251.5,584.5 1252.5,584.5 1253.5,584.5 1253.5,583.5 1253.5,584.5 1253.5,583.5 1254.5,583.5 1255.5,583.5 1255.5,582.5 1255.5,583.5 1255.5,582.5 1256.5,582.5 1257.5,582.5 1258.5,582.5 1259.5,583.5 1260.5,583.5 1261.5,584.5 1262.5,584.5 1263.5,585.5 1264.5,585.5 1265.5,585.5 1266.5,585.5 1266.5,586.5 1267.5,586.5 1267.5,585.5 1267.5,586.5 1268.5,586.5 1269.5,586.5 1270.5,586.5 1271.5,586.5 1272.5,586.5 1273.5,586.5 1274.5,586.5 1275.5,586.5 1276.5,586.5 1277.5,586.5 1278.5,586.5 1279.5,586.5 1280.5,586.5 1281.5,586.5 1282.5,586.5 1283.5,586.5 1284.5,586.5 1285.5,586.5 1286.5,586.5 1287.5,586.5 1288.5,586.5 1289.5,586.5 1290.5,586.5 1291.5,586.5 1292.5,586.5 1293.5,586.5 1294.5,586.5 1295.5,585.5 1295.5,586.5 1296.5,586.5 1297.5,586.5 1298.5,585.5 1298.5,586.5 1298.5,585.5 1299.5,585.5 1299.5,586.5 1300.5,586.5 1301.5,585.5 1301.5,586.5 1301.5,585.5 1302.5,585.5 1302.5,586.5 1303.5,586.5 1304.5,585.5 1304.5,586.5 1304.5,585.5 1305.5,585.5 1306.5,586.5 1306.5,585.5 1306.5,586.5 1306.5,585.5 1307.5,585.5 1308.5,585.5 1309.5,585.5 1310.5,585.5 1311.5,585.5 1312.5,585.5 1312.5,584.5 1312.5,585.5 1312.5,584.5 1313.5,584.5 1313.5,585.5 1313.5,584.5 1314.5,584.5 1314.5,583.5 1314.5,584.5 1314.5,583.5 1315.5,584.5 1315.5,583.5 1315.5,584.5 1315.5,583.5 1316.5,583.5 1317.5,583.5 1317.5,582.5 1317.5,583.5 1317.5,582.5 1318.5,582.5 1318.5,581.5 1318.5,582.5 1318.5,581.5 1319.5,581.5 1319.5,580.5 1319.5,581.5 1319.5,580.5 1320.5,580.5 1320.5,578.5 1320.5,580.5 1320.5,578.5 1321.5,579.5 1321.5,578.5 1321.5,579.5 1321.5,578.5 1322.5,577.5 1322.5,575.5 1322.5,577.5 1322.5,575.5 1323.5,576.5 1323.5,574.5 1323.5,576.5 1323.5,574.5 1324.5,574.5 1325.5,573.5 1325.5,571.5 1325.5,573.5 1325.5,571.5 1326.5,572.5 1326.5,570.5 1326.5,572.5 1326.5,570.5 1327.5,569.5 1327.5,570.5 1328.5,569.5 1328.5,567.5 1328.5,569.5 1328.5,567.5 1329.5,566.5 1329.5,565.5 1329.5,566.5 1329.5,565.5 1330.5,565.5 1330.5,563.5 1330.5,565.5 1330.5,563.5 1331.5,563.5 1332.5,563.5 1332.5,564.5 1333.5,564.5 1333.5,565.5 1334.5,566.5 1334.5,569.5 1335.5,569.5 1335.5,571.5 1336.5,572.5 1336.5,574.5 1337.5,575.5 1337.5,576.5 1338.5,577.5 1338.5,578.5 1339.5,579.5 1339.5,580.5 1340.5,580.5 1340.5,581.5 1341.5,582.5 1342.5,583.5 1342.5,582.5 1342.5,583.5 1342.5,582.5 1343.5,583.5 1344.5,583.5 1344.5,584.5 1345.5,584.5 1346.5,584.5 1347.5,585.5 1348.5,585.5 1348.5,584.5 1348.5,585.5 1348.5,584.5 1349.5,585.5 1350.5,585.5 1351.5,585.5 1352.5,585.5 1353.5,585.5 1353.5,586.5 1354.5,585.5 1355.5,586.5 1355.5,585.5 1355.5,586.5 1355.5,585.5 1356.5,585.5 1356.5,586.5 1356.5,585.5 1357.5,586.5 1357.5,585.5 1357.5,586.5 1358.5,586.5 1359.5,585.5 1360.5,586.5 1360.5,585.5 1360.5,586.5 1360.5,585.5 1361.5,585.5 1361.5,586.5" fill="none" stroke="#ff0000" stroke-width="1" stroke-linejoin="bevel" shape-rendering="crispEdges"/>
<text x="560.8" y="58.1" font-size="25.3" text-anchor="start" >qtz</text>
<text x="461.8" y="502.1" font-size="25.3" text-anchor="start" >qtz</text>
<text x="422.5" y="563.4" font-size="25.3" text-anchor="start" >mog</text>
<text x="518.0" y="563.4" font-size="25.3" text-anchor="start" >cal</text>
<text x="618.2" y="546.9" font-size="25.3" text-anchor="start" >cal</text>
<text x="745.8" y="546.9" font-size="25.3" text-anchor="start" >qtz</text>
<text x="798.5" y="524.9" font-size="25.3" text-anchor="start" >qtz</text>
<text x="847.3" y="546.9" font-size="25.3" text-anchor="start" >qtz</text>
<text x="911.6" y="553.8" font-size="25.3" text-anchor="start" >qtz</text>
<text x="989.6" y="524.9" font-size="25.3" text-anchor="start" >qtz</text>
<text x="1075.7" y="554.6" font-size="25.3" text-anchor="start" >qtz</text>
<text x="1165.6" y="550.5" font-size="25.3" text-anchor="start" >qtz</text>
<text x="1235.5" y="565.2" font-size="25.3" text-anchor="start" >qtz</text>
<text x="1312.5" y="547.2" font-size="25.3" text-anchor="start" >qtz</text>
<rect x="156.2" y="732.9" width="1207.8" height="2.2" fill="#000"/>
<rect x="156.2" y="1282" width="1207.8" height="1" fill="#000"/>
<rect x="156.2" y="732.9" width="2" height="550.1" fill="#000"/>
<rect x="1362.0" y="732.9" width="2" height="550.1" fill="#000"/>
<rect x="143" y="770" width="14" height="1" fill="#000"/>
<text x="100.7" y="774.8" font-size="15" textLength="35.0" lengthAdjust="spacingAndGlyphs" fill="#000">15000</text>
<rect x="143" y="940" width="14" height="1" fill="#000"/>
<text x="100.7" y="945.1" font-size="15" textLength="35.0" lengthAdjust="spacingAndGlyphs" fill="#000">10000</text>
<rect x="143" y="1109" width="14" height="1" fill="#000"/>
<text x="107.7" y="1114.5" font-size="15" textLength="28.0" lengthAdjust="spacingAndGlyphs" fill="#000">5000</text>
<rect x="143" y="1281" width="14" height="1" fill="#000"/>
<text x="128.7" y="1284.9" font-size="15" textLength="7.0" lengthAdjust="spacingAndGlyphs" fill="#000">0</text>
<rect x="175" y="1282.5" width="1" height="5" fill="#000"/>
<rect x="193" y="1282.5" width="1" height="5" fill="#000"/>
<rect x="211" y="1282.5" width="1" height="5" fill="#000"/>
<rect x="229" y="1282.5" width="1" height="5" fill="#000"/>
<rect x="247" y="1282.5" width="1" height="5" fill="#000"/>
<rect x="264" y="1282.5" width="2" height="5" fill="#000"/>
<rect x="283" y="1282.5" width="1" height="14" fill="#000"/>
<text x="276.2" y="1310.0" font-size="15" textLength="13.8" lengthAdjust="spacingAndGlyphs" fill="#000">10</text>
<rect x="301" y="1282.5" width="1" height="5" fill="#000"/>
<rect x="319" y="1282.5" width="1" height="5" fill="#000"/>
<rect x="337" y="1282.5" width="1" height="5" fill="#000"/>
<rect x="355" y="1282.5" width="1" height="5" fill="#000"/>
<rect x="373" y="1282.5" width="1" height="5" fill="#000"/>
<rect x="391" y="1282.5" width="1" height="5" fill="#000"/>
<rect x="409" y="1282.5" width="1" height="5" fill="#000"/>
<rect x="427" y="1282.5" width="1" height="5" fill="#000"/>
<rect x="445" y="1282.5" width="1" height="5" fill="#000"/>
<rect x="462" y="1282.5" width="1" height="14" fill="#000"/>
<text x="455.4" y="1310.0" font-size="15" textLength="13.8" lengthAdjust="spacingAndGlyphs" fill="#000">20</text>
<rect x="481" y="1282.5" width="1" height="5" fill="#000"/>
<rect x="499" y="1282.5" width="1" height="5" fill="#000"/>
<rect x="517" y="1282.5" width="1" height="5" fill="#000"/>
<rect x="535" y="1282.5" width="1" height="5" fill="#000"/>
<rect x="553" y="1282.5" width="1" height="5" fill="#000"/>
<rect x="571" y="1282.5" width="1" height="5" fill="#000"/>
<rect x="589" y="1282.5" width="1" height="5" fill="#000"/>
<rect x="607" y="1282.5" width="1" height="5" fill="#000"/>
<rect x="625" y="1282.5" width="1" height="5" fill="#000"/>
<rect x="642" y="1282.5" width="1" height="14" fill="#000"/>
<text x="635.5" y="1310.0" font-size="15" textLength="13.8" lengthAdjust="spacingAndGlyphs" fill="#000">30</text>
<rect x="661" y="1282.5" width="1" height="5" fill="#000"/>
<rect x="679" y="1282.5" width="1" height="5" fill="#000"/>
<rect x="697" y="1282.5" width="1" height="5" fill="#000"/>
<rect x="715" y="1282.5" width="1" height="5" fill="#000"/>
<rect x="733" y="1282.5" width="1" height="5" fill="#000"/>
<rect x="751" y="1282.5" width="1" height="5" fill="#000"/>
<rect x="769" y="1282.5" width="1" height="5" fill="#000"/>
<rect x="787" y="1282.5" width="1" height="5" fill="#000"/>
<rect x="805" y="1282.5" width="1" height="5" fill="#000"/>
<rect x="822" y="1282.5" width="1" height="14" fill="#000"/>
<text x="815.7" y="1310.0" font-size="15" textLength="13.8" lengthAdjust="spacingAndGlyphs" fill="#000">40</text>
<rect x="841" y="1282.5" width="1" height="5" fill="#000"/>
<rect x="859" y="1282.5" width="1" height="5" fill="#000"/>
<rect x="877" y="1282.5" width="1" height="5" fill="#000"/>
<rect x="895" y="1282.5" width="1" height="5" fill="#000"/>
<rect x="913" y="1282.5" width="1" height="5" fill="#000"/>
<rect x="932" y="1282.5" width="1" height="5" fill="#000"/>
<rect x="949" y="1282.5" width="2" height="5" fill="#000"/>
<rect x="968" y="1282.5" width="1" height="5" fill="#000"/>
<rect x="986" y="1282.5" width="1" height="5" fill="#000"/>
<rect x="1003" y="1282.5" width="1" height="14" fill="#000"/>
<text x="995.9" y="1310.0" font-size="15" textLength="13.8" lengthAdjust="spacingAndGlyphs" fill="#000">50</text>
<rect x="1022" y="1282.5" width="1" height="5" fill="#000"/>
<rect x="1040" y="1282.5" width="1" height="5" fill="#000"/>
<rect x="1058" y="1282.5" width="1" height="5" fill="#000"/>
<rect x="1076" y="1282.5" width="1" height="5" fill="#000"/>
<rect x="1094" y="1282.5" width="1" height="5" fill="#000"/>
<rect x="1112" y="1282.5" width="1" height="5" fill="#000"/>
<rect x="1130" y="1282.5" width="1" height="5" fill="#000"/>
<rect x="1148" y="1282.5" width="1" height="5" fill="#000"/>
<rect x="1166" y="1282.5" width="1" height="5" fill="#000"/>
<rect x="1183" y="1282.5" width="1" height="14" fill="#000"/>
<text x="1176.0" y="1310.0" font-size="15" textLength="13.8" lengthAdjust="spacingAndGlyphs" fill="#000">60</text>
<rect x="1202" y="1282.5" width="1" height="5" fill="#000"/>
<rect x="1220" y="1282.5" width="1" height="5" fill="#000"/>
<rect x="1238" y="1282.5" width="1" height="5" fill="#000"/>
<rect x="1256" y="1282.5" width="1" height="5" fill="#000"/>
<rect x="1274" y="1282.5" width="1" height="5" fill="#000"/>
<rect x="1291" y="1282.5" width="2" height="5" fill="#000"/>
<rect x="1310" y="1282.5" width="1" height="5" fill="#000"/>
<rect x="1328" y="1282.5" width="1" height="5" fill="#000"/>
<rect x="1346" y="1282.5" width="1" height="5" fill="#000"/>
<text x="3.6" y="729.8" font-size="38" text-anchor="start" textLength="119.2" lengthAdjust="spacingAndGlyphs">Counts</text>
<text x="173.4" y="782.7" font-size="38" text-anchor="start" textLength="184.2" lengthAdjust="spacingAndGlyphs">OZN-05SX</text>
<text x="524.2" y="1357.3" font-size="38" text-anchor="start" textLength="537.7" lengthAdjust="spacingAndGlyphs">Position [°2Theta] (Copper (Cu))</text>
<polyline points="158.5,1262.5 158.5,1264.5 159.5,1264.5 160.5,1265.5 161.5,1265.5 162.5,1265.5 163.5,1265.5 163.5,1267.5 163.5,1265.5 164.5,1266.5 164.5,1265.5 164.5,1266.5 164.5,1265.5 165.5,1266.5 166.5,1266.5 166.5,1265.5 166.5,1267.5 166.5,1265.5 167.5,1267.5 167.5,1266.5 167.5,1267.5 167.5,1266.5 168.5,1266.5 168.5,1267.5 169.5,1269.5 169.5,1267.5 169.5,1269.5 169.5,1267.5 170.5,1267.5 170.5,1266.5 170.5,1268.5 171.5,1268.5 171.5,1269.5 171.5,1268.5 172.5,1269.5 172.5,1267.5 172.5,1269.5 172.5,1267.5 173.5,1268.5 174.5,1269.5 174.5,1268.5 174.5,1269.5 174.5,1268.5 175.5,1270.5 175.5,1269.5 175.5,1270.5 176.5,1269.5 176.5,1268.5 176.5,1270.5 176.5,1268.5 177.5,1269.5 177.5,1270.5 178.5,1270.5 179.5,1270.5 179.5,1269.5 179.5,1270.5 180.5,1270.5 181.5,1270.5 181.5,1271.5 181.5,1270.5 182.5,1271.5 183.5,1271.5 183.5,1272.5 183.5,1271.5 184.5,1271.5 184.5,1272.5 184.5,1271.5 185.5,1272.5 185.5,1271.5 185.5,1272.5 185.5,1271.5 186.5,1272.5 187.5,1272.5 188.5,1273.5 188.5,1272.5 188.5,1273.5 188.5,1272.5 189.5,1272.5 189.5,1273.5 190.5,1273.5 190.5,1272.5 190.5,1273.5 190.5,1272.5 191.5,1274.5 191.5,1273.5 191.5,1274.5 191.5,1273.5 192.5,1273.5 193.5,1273.5 194.5,1274.5 195.5,1274.5 195.5,1275.5 195.5,1274.5 196.5,1274.5 196.5,1275.5 197.5,1275.5 198.5,1275.5 198.5,1276.5 199.5,1275.5 200.5,1275.5 200.5,1276.5 201.5,1275.5 201.5,1276.5 201.5,1275.5 202.5,1276.5 203.5,1276.5 204.5,1276.5 205.5,1277.5 206.5,1277.5 206.5,1276.5 206.5,1277.5 207.5,1277.5 208.5,1277.5 209.5,1277.5 210.5,1277.5 210.5,1278.5 210.5,1277.5 211.5,1277.5 211.5,1278.5 211.5,1277.5 212.5,1277.5 212.5,1278.5 212.5,1277.5 213.5,1278.5 214.5,1278.5 215.5,1278.5 216.5,1278.5 217.5,1278.5 218.5,1278.5 219.5,1278.5 220.5,1278.5 221.5,1278.5 222.5,1278.5 223.5,1278.5 224.5,1278.5 224.5,1279.5 224.5,1278.5 225.5,1278.5 226.5,1278.5 227.5,1278.5 228.5,1279.5 228.5,1278.5 228.5,1279.5 228.5,1278.5 229.5,1279.5 229.5,1278.5 229.5,1279.5 229.5,1278.5 230.5,1278.5 231.5,1279.5 231.5,1278.5 231.5,1279.5 231.5,1278.5 232.5,1278.5 233.5,1279.5 233.5,1278.5 233.5,1279.5 233.5,1278.5 234.5,1279.5 234.5,1278.5 234.5,1279.5 234.5,1278.5 235.5,1278.5 235.5,1279.5 236.5,1279.5 236.5,1278.5 236.5,1279.5 236.5,1278.5 237.5,1279.5 237.5,1278.5 237.5,1279.5 237.5,1278.5 238.5,1279.5 238.5,1278.5 238.5,1279.5 238.5,1278.5 239.5,1278.5 239.5,1279.5 240.5,1278.5 240.5,1279.5 241.5,1278.5 241.5,1279.5 242.5,1278.5 242.5,1279.5 242.5,1278.5 243.5,1279.5 243.5,1278.5 243.5,1279.5 243.5,1278.5 244.5,1279.5 244.5,1278.5 244.5,1279.5 245.5,1279.5 245.5,1278.5 245.5,1279.5 245.5,1278.5 246.5,1278.5 247.5,1278.5 247.5,1279.5 248.5,1279.5 248.5,1278.5 248.5,1279.5 248.5,1278.5 249.5,1279.5 250.5,1278.5 251.5,1278.5 251.5,1279.5 251.5,1278.5 252.5,1278.5 252.5,1279.5 253.5,1278.5 253.5,1279.5 254.5,1279.5 254.5,1278.5 254.5,1279.5 254.5,1278.5 255.5,1279.5 256.5,1278.5 256.5,1279.5 257.5,1278.5 257.5,1279.5 258.5,1278.5 258.5,1279.5 259.5,1279.5 259.5,1278.5 259.5,1279.5 259.5,1278.5 260.5,1279.5 260.5,1278.5 260.5,1279.5 261.5,1278.5 261.5,1279.5 261.5,1278.5 262.5,1278.5 262.5,1279.5 262.5,1278.5 263.5,1278.5 263.5,1279.5 263.5,1278.5 264.5,1278.5 264.5,1279.5 265.5,1279.5 265.5,1278.5 265.5,1279.5 265.5,1278.5 266.5,1278.5 266.5,1279.5 267.5,1278.5 267.5,1279.5 267.5,1278.5 268.5,1278.5 268.5,1279.5 269.5,1278.5 269.5,1279.5 269.5,1278.5 270.5,1278.5 271.5,1279.5 271.5,1278.5 271.5,1279.5 272.5,1279.5 272.5,1278.5 272.5,1279.5 272.5,1278.5 273.5,1278.5 273.5,1279.5 274.5,1278.5 274.5,1279.5 275.5,1279.5 275.5,1278.5 275.5,1279.5 276.5,1278.5 276.5,1279.5 276.5,1278.5 277.5,1278.5 278.5,1278.5 278.5,1279.5 279.5,1279.5 279.5,1278.5 279.5,1279.5 279.5,1278.5 280.5,1279.5 280.5,1278.5 280.5,1279.5 280.5,1278.5 281.5,1279.5 281.5,1278.5 281.5,1279.5 281.5,1278.5 282.5,1278.5 282.5,1279.5 283.5,1279.5 284.5,1278.5 284.5,1279.5 284.5,1278.5 285.5,1279.5 285.5,1278.5 285.5,1279.5 285.5,1278.5 286.5,1279.5 286.5,1278.5 286.5,1279.5 287.5,1279.5 288.5,1279.5 288.5,1278.5 288.5,1279.5 289.5,1279.5 290.5,1279.5 290.5,1278.5 290.5,1279.5 291.5,1279.5 291.5,1278.5 291.5,1279.5 292.5,1278.5 292.5,1279.5 292.5,1278.5 293.5,1278.5 293.5,1279.5 294.5,1278.5 295.5,1279.5 295.5,1278.5 295.5,1279.5 296.5,1278.5 296.5,1279.5 297.5,1279.5 297.5,1278.5 297.5,1279.5 297.5,1278.5 298.5,1279.5 298.5,1278.5 298.5,1279.5 298.5,1278.5 299.5,1278.5 299.5,1279.5 300.5,1278.5 300.5,1279.5 301.5,1278.5 301.5,1279.5 302.5,1278.5 302.5,1279.5 302.5,1278.5 303.5,1278.5 303.5,1279.5 304.5,1279.5 304.5,1278.5 304.5,1279.5 305.5,1278.5 305.5,1279.5 305.5,1278.5 306.5,1279.5 306.5,1278.5 306.5,1279.5 306.5,1278.5 307.5,1278.5 307.5,1279.5 307.5,1278.5 308.5,1278.5 309.5,1279.5 309.5,1278.5 309.5,1279.5 309.5,1278.5 310.5,1278.5 311.5,1278.5 312.5,1278.5 313.5,1278.5 314.5,1278.5 315.5,1278.5 316.5,1278.5 317.5,1278.5 318.5,1278.5 319.5,1278.5 320.5,1278.5 321.5,1278.5 322.5,1278.5 323.5,1278.5 323.5,1277.5 323.5,1278.5 324.5,1278.5 324.5,1277.5 324.5,1278.5 325.5,1278.5 325.5,1277.5 325.5,1278.5 326.5,1277.5 326.5,1278.5 327.5,1278.5 327.5,1277.5 327.5,1278.5 327.5,1277.5 328.5,1277.5 328.5,1278.5 328.5,1277.5 329.5,1277.5 330.5,1277.5 331.5,1277.5 331.5,1278.5 331.5,1277.5 332.5,1277.5 333.5,1277.5 334.5,1277.5 335.5,1276.5 335.5,1277.5 335.5,1276.5 336.5,1277.5 336.5,1276.5 336.5,1277.5 336.5,1276.5 337.5,1277.5 338.5,1277.5 338.5,1276.5 338.5,1277.5 338.5,1276.5 339.5,1277.5 340.5,1277.5 340.5,1276.5 340.5,1277.5 340.5,1276.5 341.5,1276.5 342.5,1276.5 343.5,1277.5 343.5,1276.5 343.5,1277.5 343.5,1276.5 344.5,1277.5 345.5,1276.5 345.5,1277.5 345.5,1276.5 346.5,1276.5 346.5,1277.5 347.5,1277.5 347.5,1276.5 347.5,1277.5 348.5,1276.5 348.5,1277.5 348.5,1276.5 349.5,1276.5 349.5,1277.5 350.5,1276.5 350.5,1277.5 351.5,1276.5 351.5,1277.5 352.5,1277.5 352.5,1276.5 352.5,1277.5 352.5,1276.5 353.5,1276.5 353.5,1277.5 354.5,1277.5 355.5,1277.5 355.5,1276.5 355.5,1277.5 355.5,1276.5 356.5,1276.5 356.5,1277.5 357.5,1277.5 358.5,1277.5 359.5,1276.5 360.5,1277.5 361.5,1277.5 361.5,1276.5 361.5,1277.5 362.5,1277.5 363.5,1277.5 364.5,1277.5 365.5,1277.5 366.5,1277.5 367.5,1278.5 367.5,1277.5 367.5,1278.5 367.5,1277.5 368.5,1277.5 368.5,1278.5 369.5,1277.5 369.5,1278.5 370.5,1277.5 370.5,1278.5 370.5,1277.5 371.5,1277.5 372.5,1277.5 372.5,1278.5 373.5,1277.5 373.5,1278.5 374.5,1278.5 375.5,1277.5 375.5,1278.5 376.5,1278.5 377.5,1277.5 377.5,1278.5 378.5,1278.5 379.5,1278.5 380.5,1278.5 381.5,1278.5 382.5,1278.5 383.5,1279.5 383.5,1278.5 383.5,1279.5 383.5,1278.5 384.5,1278.5 384.5,1279.5 385.5,1278.5 386.5,1278.5 387.5,1278.5 388.5,1279.5 388.5,1278.5 388.5,1279.5 388.5,1278.5 389.5,1278.5 390.5,1278.5 391.5,1278.5 391.5,1279.5 392.5,1278.5 393.5,1279.5 393.5,1278.5 393.5,1279.5 393.5,1278.5 394.5,1278.5 395.5,1278.5 395.5,1279.5 395.5,1278.5 396.5,1278.5 396.5,1279.5 396.5,1278.5 397.5,1278.5 397.5,1279.5 397.5,1278.5 398.5,1279.5 398.5,1278.5 398.5,1279.5 398.5,1278.5 399.5,1278.5 400.5,1278.5 400.5,1279.5 400.5,1278.5 401.5,1279.5 401.5,1278.5 401.5,1279.5 401.5,1278.5 402.5,1278.5 403.5,1278.5 404.5,1278.5 404.5,1279.5 404.5,1278.5 405.5,1278.5 406.5,1278.5 407.5,1279.5 407.5,1278.5 407.5,1279.5 408.5,1279.5 408.5,1278.5 408.5,1279.5 408.5,1278.5 409.5,1278.5 409.5,1279.5 410.5,1278.5 411.5,1278.5 412.5,1278.5 412.5,1279.5 412.5,1278.5 413.5,1279.5 413.5,1278.5 413.5,1279.5 413.5,1278.5 414.5,1278.5 415.5,1278.5 416.5,1278.5 417.5,1278.5 418.5,1278.5 419.5,1278.5 420.5,1278.5 421.5,1278.5 422.5,1278.5 422.5,1279.5 422.5,1278.5 423.5,1279.5 423.5,1278.5 423.5,1279.5 423.5,1278.5 424.5,1278.5 425.5,1278.5 426.5,1278.5 426.5,1279.5 426.5,1278.5 427.5,1278.5 427.5,1279.5 427.5,1278.5 428.5,1278.5 429.5,1278.5 430.5,1278.5 431.5,1278.5 432.5,1278.5 433.5,1278.5 434.5,1278.5 435.5,1278.5 436.5,1278.5 437.5,1278.5 438.5,1278.5 439.5,1279.5 439.5,1278.5 439.5,1279.5 439.5,1278.5 440.5,1278.5 440.5,1279.5 440.5,1278.5 441.5,1278.5 442.5,1278.5 443.5,1279.5 443.5,1278.5 443.5,1279.5 443.5,1278.5 444.5,1278.5 445.5,1278.5 446.5,1278.5 446.5,1277.5 446.5,1278.5 446.5,1277.5 447.5,1278.5 448.5,1277.5 448.5,1278.5 449.5,1277.5 450.5,1277.5 451.5,1277.5 452.5,1276.5 453.5,1276.5 454.5,1276.5 454.5,1275.5 454.5,1276.5 454.5,1275.5 455.5,1275.5 456.5,1275.5 457.5,1275.5 457.5,1274.5 457.5,1275.5 457.5,1274.5 458.5,1274.5 459.5,1274.5 459.5,1273.5 459.5,1274.5 459.5,1273.5 460.5,1274.5 460.5,1273.5 460.5,1274.5 460.5,1273.5 461.5,1273.5 462.5,1273.5 462.5,1272.5 462.5,1273.5 462.5,1272.5 463.5,1273.5 464.5,1272.5 464.5,1273.5 464.5,1272.5 465.5,1272.5 465.5,1271.5 465.5,1272.5 465.5,1271.5 466.5,1272.5 466.5,1271.5 466.5,1272.5 466.5,1271.5 467.5,1272.5 468.5,1272.5 468.5,1271.5 468.5,1272.5 469.5,1272.5 469.5,1271.5 469.5,1272.5 470.5,1271.5 471.5,1271.5 471.5,1270.5 471.5,1271.5 471.5,1270.5 472.5,1271.5 472.5,1270.5 472.5,1271.5 472.5,1270.5 473.5,1269.5 473.5,1268.5 473.5,1269.5 473.5,1268.5 474.5,1267.5 474.5,1263.5 474.5,1267.5 474.5,1263.5 475.5,1261.5 475.5,1256.5 475.5,1261.5 475.5,1256.5 476.5,1250.5 476.5,1241.5 476.5,1250.5 476.5,1241.5 477.5,1236.5 477.5,1224.5 477.5,1236.5 477.5,1224.5 478.5,1220.5 478.5,1217.5 478.5,1220.5 478.5,1217.5 479.5,1219.5 479.5,1230.5 480.5,1234.5 480.5,1246.5 481.5,1251.5 481.5,1259.5 482.5,1263.5 482.5,1267.5 483.5,1267.5 483.5,1271.5 484.5,1271.5 484.5,1272.5 485.5,1273.5 485.5,1274.5 486.5,1274.5 486.5,1275.5 487.5,1275.5 487.5,1276.5 488.5,1276.5 489.5,1275.5 489.5,1276.5 490.5,1276.5 491.5,1277.5 491.5,1275.5 491.5,1277.5 491.5,1275.5 492.5,1276.5 492.5,1277.5 493.5,1276.5 493.5,1277.5 493.5,1276.5 494.5,1276.5 495.5,1277.5 495.5,1276.5 495.5,1277.5 495.5,1276.5 496.5,1277.5 496.5,1276.5 496.5,1277.5 496.5,1276.5 497.5,1276.5 497.5,1277.5 498.5,1277.5 498.5,1276.5 498.5,1277.5 498.5,1276.5 499.5,1276.5 499.5,1277.5 499.5,1276.5 500.5,1277.5 500.5,1276.5 500.5,1277.5 500.5,1276.5 501.5,1277.5 501.5,1276.5 501.5,1277.5 502.5,1277.5 503.5,1276.5 503.5,1277.5 504.5,1277.5 505.5,1276.5 505.5,1277.5 506.5,1276.5 506.5,1277.5 507.5,1276.5 507.5,1277.5 508.5,1276.5 508.5,1277.5 509.5,1276.5 509.5,1277.5 510.5,1276.5 510.5,1277.5 511.5,1277.5 511.5,1276.5 511.5,1277.5 511.5,1276.5 512.5,1277.5 512.5,1276.5 512.5,1277.5 513.5,1276.5 513.5,1277.5 514.5,1277.5 514.5,1276.5 514.5,1277.5 514.5,1276.5 515.5,1277.5 515.5,1276.5 515.5,1277.5 516.5,1276.5 517.5,1276.5 517.5,1277.5 518.5,1276.5 519.5,1276.5 520.5,1276.5 521.5,1276.5 522.5,1276.5 523.5,1276.5 524.5,1276.5 524.5,1275.5 524.5,1276.5 525.5,1276.5 526.5,1276.5 527.5,1276.5 527.5,1275.5 527.5,1276.5 528.5,1276.5 528.5,1275.5 528.5,1276.5 528.5,1275.5 529.5,1275.5 529.5,1276.5 529.5,1275.5 530.5,1276.5 530.5,1275.5 530.5,1276.5 531.5,1276.5 532.5,1275.5 533.5,1274.5 533.5,1275.5 534.5,1274.5 535.5,1274.5 535.5,1273.5 535.5,1274.5 535.5,1273.5 536.5,1273.5 536.5,1274.5 537.5,1274.5 538.5,1275.5 539.5,1275.5 540.5,1275.5 541.5,1275.5 542.5,1275.5 542.5,1276.5 542.5,1275.5 543.5,1275.5 543.5,1274.5 543.5,1275.5 543.5,1274.5 544.5,1275.5 544.5,1274.5 544.5,1275.5 545.5,1274.5 545.5,1275.5 545.5,1274.5 546.5,1275.5 546.5,1274.5 546.5,1275.5 546.5,1274.5 547.5,1274.5 547.5,1275.5 548.5,1275.5 548.5,1274.5 548.5,1275.5 548.5,1274.5 549.5,1274.5 550.5,1274.5 550.5,1273.5 550.5,1274.5 551.5,1274.5 551.5,1273.5 551.5,1274.5 551.5,1273.5 552.5,1274.5 552.5,1273.5 552.5,1274.5 553.5,1274.5 553.5,1273.5 553.5,1274.5 553.5,1273.5 554.5,1273.5 554.5,1274.5 554.5,1273.5 555.5,1274.5 555.5,1273.5 555.5,1274.5 555.5,1273.5 556.5,1272.5 556.5,1273.5 556.5,1272.5 557.5,1272.5 557.5,1273.5 558.5,1272.5 559.5,1272.5 559.5,1271.5 559.5,1272.5 559.5,1271.5 560.5,1272.5 561.5,1271.5 561.5,1272.5 562.5,1271.5 563.5,1270.5 564.5,1271.5 564.5,1270.5 564.5,1271.5 564.5,1270.5 565.5,1269.5 565.5,1268.5 565.5,1269.5 565.5,1268.5 566.5,1268.5 566.5,1267.5 566.5,1268.5 567.5,1267.5 568.5,1267.5 568.5,1265.5 568.5,1267.5 568.5,1265.5 569.5,1264.5 569.5,1265.5 569.5,1264.5 570.5,1264.5 570.5,1262.5 570.5,1264.5 570.5,1262.5 571.5,1261.5 571.5,1259.5 571.5,1261.5 571.5,1259.5 572.5,1258.5 572.5,1257.5 572.5,1258.5 572.5,1257.5 573.5,1255.5 573.5,1251.5 573.5,1255.5 573.5,1251.5 574.5,1250.5 574.5,1246.5 574.5,1250.5 574.5,1246.5 575.5,1244.5 575.5,1237.5 575.5,1244.5 575.5,1237.5 576.5,1233.5 576.5,1225.5 576.5,1233.5 576.5,1225.5 577.5,1218.5 577.5,1204.5 577.5,1218.5 577.5,1204.5 578.5,1195.5 578.5,1171.5 578.5,1195.5 578.5,1171.5 579.5,1154.5 579.5,1110.5 579.5,1154.5 579.5,1110.5 580.5,1080.5 580.5,998.5 580.5,1080.5 580.5,998.5 581.5,941.5 581.5,812.5 581.5,941.5 581.5,812.5 582.5,753.5 582.5,735.0 582.5,753.5 582.5,735.5 583.5,744.5 583.5,865.5 584.5,930.5 584.5,1034.5 585.5,1073.5 585.5,1131.5 586.5,1151.5 586.5,1181.5 587.5,1193.5 587.5,1211.5 588.5,1218.5 588.5,1228.5 589.5,1233.5 589.5,1240.5 590.5,1242.5 590.5,1247.5 591.5,1249.5 591.5,1253.5 592.5,1254.5 592.5,1257.5 593.5,1258.5 593.5,1260.5 594.5,1260.5 594.5,1263.5 595.5,1263.5 595.5,1262.5 595.5,1264.5 596.5,1264.5 596.5,1265.5 597.5,1267.5 597.5,1266.5 597.5,1267.5 597.5,1266.5 598.5,1267.5 598.5,1268.5 599.5,1267.5 599.5,1269.5 599.5,1268.5 600.5,1269.5 600.5,1270.5 601.5,1270.5 602.5,1271.5 602.5,1270.5 602.5,1271.5 603.5,1270.5 603.5,1271.5 604.5,1271.5 605.5,1272.5 606.5,1271.5 606.5,1272.5 607.5,1271.5 607.5,1272.5 608.5,1272.5 609.5,1272.5 609.5,1273.5 609.5,1272.5 610.5,1272.5 610.5,1273.5 610.5,1272.5 611.5,1272.5 611.5,1274.5 611.5,1273.5 612.5,1272.5 612.5,1273.5 613.5,1273.5 614.5,1273.5 615.5,1273.5 615.5,1272.5 615.5,1273.5 616.5,1273.5 616.5,1274.5 617.5,1273.5 617.5,1274.5 617.5,1273.5 618.5,1274.5 619.5,1273.5 619.5,1274.5 620.5,1273.5 621.5,1273.5 621.5,1274.5 621.5,1273.5 622.5,1274.5 622.5,1273.5 622.5,1274.5 623.5,1273.5 624.5,1274.5 624.5,1273.5 624.5,1274.5 624.5,1273.5 625.5,1274.5 625.5,1273.5 625.5,1274.5 626.5,1274.5 626.5,1273.5 626.5,1274.5 626.5,1273.5 627.5,1273.5 628.5,1274.5 628.5,1272.5 628.5,1274.5 628.5,1272.5 629.5,1273.5 629.5,1272.5 629.5,1273.5 630.5,1272.5 630.5,1273.5 630.5,1272.5 631.5,1272.5 632.5,1272.5 632.5,1271.5 632.5,1272.5 632.5,1271.5 633.5,1271.5 633.5,1272.5 633.5,1271.5 634.5,1271.5 634.5,1272.5 635.5,1271.5 635.5,1272.5 636.5,1272.5 636.5,1273.5 637.5,1274.5 637.5,1273.5 637.5,1274.5 637.5,1273.5 638.5,1273.5 638.5,1274.5 639.5,1273.5 640.5,1273.5 640.5,1274.5 641.5,1274.5 641.5,1275.5 642.5,1275.5 643.5,1274.5 644.5,1275.5 644.5,1274.5 644.5,1275.5 644.5,1274.5 645.5,1274.5 645.5,1275.5 645.5,1274.5 646.5,1274.5 647.5,1275.5 647.5,1274.5 647.5,1275.5 648.5,1275.5 649.5,1275.5 650.5,1274.5 650.5,1275.5 650.5,1274.5 651.5,1275.5 652.5,1275.5 653.5,1275.5 654.5,1275.5 654.5,1276.5 655.5,1275.5 655.5,1276.5 656.5,1275.5 656.5,1274.5 656.5,1275.5 656.5,1274.5 657.5,1275.5 658.5,1275.5 659.5,1275.5 660.5,1275.5 661.5,1275.5 662.5,1274.5 662.5,1275.5 663.5,1276.5 663.5,1275.5 663.5,1276.5 663.5,1275.5 664.5,1276.5 664.5,1275.5 664.5,1276.5 664.5,1275.5 665.5,1276.5 666.5,1275.5 666.5,1276.5 666.5,1275.5 667.5,1275.5 667.5,1276.5 668.5,1275.5 668.5,1276.5 669.5,1276.5 669.5,1275.5 669.5,1276.5 669.5,1275.5 670.5,1276.5 670.5,1275.5 670.5,1276.5 671.5,1275.5 671.5,1276.5 672.5,1276.5 672.5,1275.5 672.5,1276.5 673.5,1275.5 673.5,1276.5 673.5,1275.5 674.5,1276.5 674.5,1275.5 674.5,1276.5 674.5,1275.5 675.5,1275.5 675.5,1276.5 676.5,1276.5 676.5,1275.5 676.5,1276.5 676.5,1275.5 677.5,1276.5 678.5,1275.5 678.5,1276.5 678.5,1275.5 679.5,1276.5 679.5,1275.5 679.5,1276.5 679.5,1275.5 680.5,1275.5 680.5,1276.5 681.5,1276.5 682.5,1276.5 683.5,1276.5 684.5,1275.5 684.5,1276.5 685.5,1276.5 686.5,1276.5 687.5,1276.5 688.5,1277.5 688.5,1276.5 688.5,1277.5 688.5,1276.5 689.5,1276.5 689.5,1275.5 689.5,1276.5 690.5,1276.5 690.5,1277.5 691.5,1276.5 692.5,1276.5 693.5,1276.5 694.5,1276.5 694.5,1275.5 694.5,1276.5 694.5,1275.5 695.5,1276.5 696.5,1276.5 697.5,1277.5 697.5,1276.5 697.5,1277.5 697.5,1276.5 698.5,1276.5 699.5,1276.5 699.5,1277.5 700.5,1276.5 700.5,1277.5 701.5,1276.5 702.5,1276.5 703.5,1276.5 703.5,1277.5 704.5,1276.5 705.5,1277.5 705.5,1276.5 705.5,1277.5 705.5,1276.5 706.5,1276.5 706.5,1277.5 707.5,1277.5 707.5,1276.5 707.5,1277.5 707.5,1276.5 708.5,1277.5 709.5,1277.5 710.5,1277.5 710.5,1276.5 710.5,1277.5 710.5,1276.5 711.5,1276.5 712.5,1276.5 712.5,1277.5 713.5,1277.5 713.5,1276.5 713.5,1277.5 714.5,1276.5 714.5,1277.5 715.5,1277.5 715.5,1276.5 715.5,1277.5 716.5,1277.5 716.5,1276.5 716.5,1277.5 716.5,1276.5 717.5,1277.5 718.5,1277.5 719.5,1277.5 719.5,1276.5 719.5,1277.5 719.5,1276.5 720.5,1276.5 720.5,1277.5 721.5,1277.5 722.5,1277.5 723.5,1277.5 723.5,1276.5 723.5,1277.5 724.5,1277.5 725.5,1276.5 725.5,1277.5 726.5,1276.5 726.5,1277.5 726.5,1276.5 727.5,1277.5 728.5,1276.5 728.5,1277.5 729.5,1277.5 730.5,1277.5 730.5,1276.5 730.5,1277.5 730.5,1276.5 731.5,1277.5 731.5,1276.5 731.5,1277.5 732.5,1277.5 733.5,1277.5 733.5,1276.5 733.5,1277.5 733.5,1276.5 734.5,1277.5 734.5,1276.5 734.5,1277.5 734.5,1276.5 735.5,1277.5 736.5,1277.5 737.5,1277.5 738.5,1276.5 738.5,1277.5 739.5,1277.5 740.5,1277.5 740.5,1276.5 740.5,1277.5 741.5,1277.5 741.5,1276.5 741.5,1277.5 742.5,1277.5 743.5,1277.5 744.5,1277.5 745.5,1277.5 745.5,1276.5 745.5,1277.5 745.5,1276.5 746.5,1277.5 747.5,1277.5 747.5,1276.5 747.5,1277.5 747.5,1276.5 748.5,1277.5 748.5,1276.5 748.5,1277.5 748.5,1276.5 749.5,1276.5 750.5,1276.5 751.5,1276.5 752.5,1276.5 753.5,1275.5 753.5,1276.5 754.5,1276.5 754.5,1275.5 754.5,1276.5 754.5,1275.5 755.5,1275.5 755.5,1276.5 756.5,1275.5 756.5,1273.5 756.5,1275.5 756.5,1273.5 757.5,1273.5 757.5,1272.5 757.5,1273.5 757.5,1272.5 758.5,1270.5 758.5,1267.5 758.5,1270.5 758.5,1267.5 759.5,1266.5 759.5,1263.5 759.5,1266.5 759.5,1263.5 760.5,1260.5 760.5,1258.5 760.5,1260.5 760.5,1258.5 761.5,1256.5 761.5,1255.5 761.5,1256.5 762.5,1256.5 762.5,1257.5 763.5,1259.5 763.5,1264.5 764.5,1265.5 764.5,1268.5 765.5,1270.5 765.5,1272.5 766.5,1272.5 766.5,1274.5 767.5,1273.5 767.5,1275.5 768.5,1275.5 769.5,1276.5 769.5,1275.5 769.5,1276.5 769.5,1275.5 770.5,1276.5 770.5,1275.5 770.5,1276.5 770.5,1275.5 771.5,1276.5 771.5,1277.5 772.5,1276.5 773.5,1276.5 773.5,1277.5 774.5,1277.5 774.5,1276.5 774.5,1277.5 775.5,1277.5 775.5,1276.5 775.5,1277.5 775.5,1276.5 776.5,1277.5 776.5,1276.5 776.5,1277.5 777.5,1277.5 777.5,1276.5 777.5,1277.5 777.5,1276.5 778.5,1277.5 779.5,1277.5 780.5,1277.5 781.5,1276.5 781.5,1277.5 782.5,1276.5 782.5,1277.5 783.5,1277.5 784.5,1277.5 785.5,1277.5 786.5,1277.5 787.5,1277.5 788.5,1277.5 789.5,1277.5 790.5,1277.5 790.5,1276.5 790.5,1278.5 790.5,1276.5 791.5,1277.5 792.5,1277.5 792.5,1276.5 792.5,1277.5 793.5,1277.5 794.5,1277.5 795.5,1277.5 796.5,1277.5 797.5,1277.5 798.5,1277.5 798.5,1276.5 798.5,1277.5 798.5,1276.5 799.5,1276.5 799.5,1277.5 800.5,1277.5 800.5,1276.5 800.5,1277.5 800.5,1276.5 801.5,1276.5 801.5,1277.5 802.5,1276.5 803.5,1276.5 803.5,1277.5 804.5,1276.5 804.5,1275.5 804.5,1276.5 804.5,1275.5 805.5,1276.5 805.5,1275.5 805.5,1276.5 805.5,1275.5 806.5,1275.5 806.5,1274.5 806.5,1275.5 806.5,1274.5 807.5,1274.5 808.5,1273.5 808.5,1272.5 808.5,1273.5 808.5,1272.5 809.5,1271.5 809.5,1270.5 809.5,1271.5 809.5,1270.5 810.5,1268.5 810.5,1264.5 810.5,1268.5 810.5,1264.5 811.5,1263.5 811.5,1258.5 811.5,1263.5 811.5,1258.5 812.5,1255.5 812.5,1250.5 812.5,1255.5 812.5,1250.5 813.5,1247.5 813.5,1243.5 813.5,1247.5 813.5,1243.5 814.5,1243.5 814.5,1244.5 815.5,1247.5 815.5,1252.5 816.5,1254.5 816.5,1260.5 817.5,1262.5 817.5,1265.5 818.5,1268.5 818.5,1271.5 819.5,1271.5 819.5,1272.5 820.5,1272.5 820.5,1274.5 821.5,1274.5 822.5,1274.5 823.5,1274.5 823.5,1275.5 824.5,1274.5 825.5,1273.5 825.5,1272.5 825.5,1273.5 825.5,1272.5 826.5,1272.5 826.5,1271.5 826.5,1272.5 827.5,1270.5 828.5,1270.5 828.5,1268.5 828.5,1270.5 828.5,1268.5 829.5,1267.5 829.5,1268.5 830.5,1268.5 830.5,1270.5 831.5,1271.5 832.5,1272.5 832.5,1273.5 833.5,1274.5 833.5,1275.5 834.5,1275.5 834.5,1276.5 835.5,1275.5 835.5,1276.5 836.5,1276.5 836.5,1275.5 836.5,1277.5 837.5,1276.5 838.5,1276.5 838.5,1277.5 839.5,1277.5 840.5,1277.5 840.5,1276.5 840.5,1277.5 840.5,1276.5 841.5,1277.5 842.5,1277.5 843.5,1276.5 843.5,1277.5 843.5,1276.5 844.5,1277.5 845.5,1277.5 845.5,1276.5 845.5,1277.5 846.5,1277.5 847.5,1277.5 848.5,1276.5 848.5,1277.5 849.5,1277.5 850.5,1277.5 851.5,1277.5 852.5,1277.5 852.5,1276.5 852.5,1277.5 852.5,1276.5 853.5,1277.5 854.5,1276.5 854.5,1277.5 855.5,1276.5 855.5,1277.5 856.5,1277.5 856.5,1276.5 856.5,1277.5 856.5,1276.5 857.5,1276.5 857.5,1277.5 858.5,1276.5 859.5,1276.5 860.5,1275.5 861.5,1275.5 862.5,1274.5 862.5,1273.5 862.5,1274.5 862.5,1273.5 863.5,1272.5 863.5,1271.5 863.5,1272.5 863.5,1271.5 864.5,1270.5 864.5,1267.5 864.5,1270.5 864.5,1267.5 865.5,1267.5 865.5,1261.5 865.5,1267.5 865.5,1261.5 866.5,1261.5 866.5,1258.5 866.5,1261.5 866.5,1258.5 867.5,1257.5 868.5,1258.5 868.5,1260.5 869.5,1261.5 869.5,1264.5 870.5,1265.5 870.5,1269.5 871.5,1269.5 871.5,1271.5 872.5,1273.5 873.5,1274.5 873.5,1275.5 874.5,1275.5 875.5,1277.5 875.5,1275.5 875.5,1277.5 875.5,1275.5 876.5,1276.5 876.5,1277.5 877.5,1276.5 877.5,1277.5 878.5,1277.5 878.5,1276.5 878.5,1277.5 878.5,1276.5 879.5,1277.5 879.5,1276.5 879.5,1277.5 880.5,1277.5 881.5,1277.5 882.5,1277.5 883.5,1277.5 884.5,1277.5 885.5,1277.5 886.5,1277.5 887.5,1278.5 887.5,1277.5 887.5,1278.5 887.5,1277.5 888.5,1277.5 889.5,1277.5 890.5,1277.5 891.5,1278.5 891.5,1277.5 891.5,1278.5 891.5,1277.5 892.5,1277.5 893.5,1277.5 894.5,1277.5 895.5,1277.5 896.5,1277.5 897.5,1277.5 898.5,1278.5 898.5,1277.5 898.5,1278.5 898.5,1277.5 899.5,1277.5 899.5,1278.5 900.5,1277.5 900.5,1278.5 901.5,1277.5 902.5,1277.5 902.5,1278.5 902.5,1277.5 903.5,1277.5 904.5,1278.5 904.5,1277.5 904.5,1278.5 904.5,1277.5 905.5,1277.5 905.5,1278.5 906.5,1277.5 906.5,1278.5 906.5,1277.5 907.5,1277.5 908.5,1277.5 908.5,1278.5 908.5,1277.5 909.5,1277.5 910.5,1277.5 911.5,1276.5 911.5,1277.5 912.5,1276.5 912.5,1277.5 913.5,1276.5 913.5,1277.5 914.5,1277.5 914.5,1276.5 914.5,1277.5 914.5,1276.5 915.5,1276.5 916.5,1276.5 916.5,1275.5 916.5,1276.5 916.5,1275.5 917.5,1276.5 917.5,1275.5 917.5,1276.5 917.5,1275.5 918.5,1275.5 918.5,1274.5 918.5,1275.5 919.5,1274.5 919.5,1275.5 919.5,1274.5 920.5,1273.5 921.5,1273.5 921.5,1272.5 921.5,1273.5 921.5,1272.5 922.5,1272.5 922.5,1273.5 923.5,1272.5 923.5,1271.5 923.5,1272.5 923.5,1271.5 924.5,1272.5 924.5,1270.5 924.5,1272.5 924.5,1270.5 925.5,1270.5 925.5,1269.5 925.5,1270.5 925.5,1269.5 926.5,1269.5 926.5,1267.5 926.5,1269.5 926.5,1267.5 927.5,1268.5 927.5,1267.5 927.5,1268.5 927.5,1267.5 928.5,1267.5 928.5,1268.5 929.5,1267.5 929.5,1269.5 930.5,1269.5 930.5,1271.5 931.5,1270.5 931.5,1273.5 932.5,1273.5 932.5,1274.5 933.5,1274.5 934.5,1275.5 934.5,1276.5 934.5,1275.5 935.5,1276.5 935.5,1277.5 936.5,1276.5 936.5,1277.5 937.5,1276.5 937.5,1277.5 938.5,1277.5 939.5,1277.5 940.5,1277.5 941.5,1277.5 942.5,1277.5 942.5,1278.5 943.5,1278.5 943.5,1277.5 943.5,1278.5 943.5,1277.5 944.5,1278.5 944.5,1277.5 944.5,1278.5 945.5,1277.5 945.5,1278.5 946.5,1277.5 947.5,1277.5 947.5,1278.5 948.5,1278.5 949.5,1277.5 949.5,1278.5 950.5,1278.5 950.5,1277.5 950.5,1278.5 950.5,1277.5 951.5,1278.5 952.5,1278.5 952.5,1277.5 952.5,1278.5 952.5,1277.5 953.5,1277.5 953.5,1278.5 953.5,1277.5 954.5,1278.5 954.5,1277.5 954.5,1278.5 954.5,1277.5 955.5,1277.5 955.5,1278.5 956.5,1278.5 957.5,1278.5 957.5,1277.5 957.5,1278.5 957.5,1277.5 958.5,1277.5 958.5,1278.5 959.5,1278.5 960.5,1278.5 961.5,1277.5 961.5,1278.5 962.5,1278.5 963.5,1278.5 964.5,1278.5 965.5,1278.5 966.5,1278.5 966.5,1277.5 966.5,1278.5 966.5,1277.5 967.5,1278.5 968.5,1278.5 969.5,1278.5 970.5,1277.5 970.5,1278.5 971.5,1278.5 971.5,1277.5 971.5,1278.5 971.5,1277.5 972.5,1278.5 973.5,1278.5 974.5,1278.5 975.5,1278.5 976.5,1278.5 977.5,1278.5 977.5,1277.5 977.5,1278.5 977.5,1277.5 978.5,1278.5 979.5,1278.5 979.5,1277.5 979.5,1278.5 979.5,1277.5 980.5,1278.5 980.5,1277.5 980.5,1278.5 981.5,1277.5 981.5,1278.5 981.5,1277.5 982.5,1277.5 983.5,1277.5 983.5,1278.5 984.5,1277.5 985.5,1277.5 985.5,1278.5 986.5,1278.5 986.5,1277.5 986.5,1278.5 987.5,1277.5 988.5,1277.5 989.5,1277.5 990.5,1277.5 990.5,1278.5 990.5,1277.5 991.5,1277.5 992.5,1276.5 992.5,1277.5 992.5,1276.5 993.5,1276.5 993.5,1277.5 993.5,1276.5 994.5,1276.5 995.5,1276.5 995.5,1277.5 996.5,1276.5 996.5,1275.5 996.5,1276.5 996.5,1275.5 997.5,1275.5 998.5,1274.5 998.5,1273.5 998.5,1274.5 998.5,1273.5 999.5,1274.5 999.5,1272.5 999.5,1274.5 999.5,1272.5 1000.5,1271.5 1001.5,1269.5 1001.5,1266.5 1001.5,1269.5 1001.5,1266.5 1002.5,1264.5 1002.5,1260.5 1002.5,1264.5 1002.5,1260.5 1003.5,1258.5 1003.5,1254.5 1003.5,1258.5 1003.5,1254.5 1004.5,1250.5 1004.5,1245.5 1004.5,1250.5 1004.5,1245.5 1005.5,1241.5 1005.5,1236.5 1005.5,1241.5 1005.5,1236.5 1006.5,1234.5 1006.5,1233.5 1006.5,1234.5 1007.5,1233.5 1007.5,1238.5 1008.5,1239.5 1008.5,1245.5 1009.5,1249.5 1009.5,1254.5 1010.5,1257.5 1010.5,1261.5 1011.5,1264.5 1011.5,1268.5 1012.5,1268.5 1012.5,1270.5 1013.5,1271.5 1013.5,1273.5 1014.5,1273.5 1014.5,1274.5 1015.5,1274.5 1015.5,1275.5 1016.5,1275.5 1017.5,1276.5 1017.5,1275.5 1017.5,1276.5 1017.5,1275.5 1018.5,1276.5 1018.5,1277.5 1019.5,1277.5 1019.5,1276.5 1019.5,1277.5 1020.5,1276.5 1020.5,1277.5 1021.5,1277.5 1022.5,1277.5 1023.5,1277.5 1024.5,1277.5 1025.5,1278.5 1025.5,1277.5 1025.5,1278.5 1025.5,1277.5 1026.5,1277.5 1026.5,1278.5 1026.5,1277.5 1027.5,1278.5 1027.5,1277.5 1027.5,1278.5 1027.5,1277.5 1028.5,1277.5 1028.5,1278.5 1029.5,1278.5 1030.5,1278.5 1031.5,1277.5 1031.5,1278.5 1032.5,1278.5 1033.5,1278.5 1034.5,1278.5 1034.5,1277.5 1034.5,1278.5 1035.5,1278.5 1036.5,1278.5 1037.5,1278.5 1038.5,1277.5 1038.5,1278.5 1039.5,1278.5 1040.5,1278.5 1041.5,1278.5 1042.5,1278.5 1043.5,1278.5 1043.5,1279.5 1044.5,1278.5 1045.5,1278.5 1046.5,1278.5 1046.5,1279.5 1047.5,1278.5 1048.5,1278.5 1049.5,1278.5 1050.5,1278.5 1050.5,1279.5 1051.5,1278.5 1052.5,1278.5 1052.5,1279.5 1052.5,1278.5 1053.5,1278.5 1053.5,1279.5 1054.5,1278.5 1055.5,1278.5 1056.5,1278.5 1057.5,1278.5 1058.5,1278.5 1059.5,1278.5 1059.5,1279.5 1060.5,1278.5 1061.5,1278.5 1062.5,1278.5 1062.5,1279.5 1063.5,1278.5 1064.5,1278.5 1065.5,1278.5 1066.5,1278.5 1067.5,1278.5 1067.5,1279.5 1068.5,1278.5 1069.5,1278.5 1070.5,1278.5 1071.5,1278.5 1071.5,1277.5 1071.5,1279.5 1071.5,1277.5 1072.5,1278.5 1073.5,1278.5 1074.5,1278.5 1075.5,1277.5 1075.5,1278.5 1076.5,1278.5 1076.5,1279.5 1077.5,1278.5 1078.5,1278.5 1079.5,1277.5 1079.5,1278.5 1080.5,1277.5 1080.5,1278.5 1081.5,1278.5 1081.5,1277.5 1081.5,1278.5 1082.5,1277.5 1083.5,1277.5 1084.5,1277.5 1084.5,1276.5 1084.5,1277.5 1084.5,1276.5 1085.5,1276.5 1086.5,1275.5 1086.5,1276.5 1087.5,1275.5 1087.5,1274.5 1087.5,1275.5 1087.5,1274.5 1088.5,1274.5 1088.5,1273.5 1088.5,1274.5 1088.5,1273.5 1089.5,1271.5 1089.5,1270.5 1089.5,1271.5 1089.5,1270.5 1090.5,1269.5 1090.5,1270.5 1090.5,1269.5 1091.5,1269.5 1091.5,1268.5 1091.5,1269.5 1091.5,1268.5 1092.5,1268.5 1092.5,1269.5 1092.5,1268.5 1093.5,1268.5 1093.5,1270.5 1094.5,1270.5 1094.5,1271.5 1095.5,1271.5 1096.5,1272.5 1097.5,1272.5 1097.5,1273.5 1098.5,1273.5 1099.5,1273.5 1100.5,1273.5 1100.5,1274.5 1100.5,1273.5 1101.5,1273.5 1101.5,1274.5 1102.5,1273.5 1102.5,1274.5 1103.5,1274.5 1103.5,1275.5 1104.5,1275.5 1104.5,1276.5 1105.5,1276.5 1106.5,1276.5 1106.5,1277.5 1106.5,1276.5 1107.5,1277.5 1108.5,1277.5 1109.5,1278.5 1109.5,1277.5 1109.5,1278.5 1109.5,1277.5 1110.5,1278.5 1111.5,1278.5 1112.5,1277.5 1112.5,1278.5 1113.5,1278.5 1114.5,1278.5 1115.5,1278.5 1116.5,1278.5 1117.5,1278.5 1118.5,1278.5 1119.5,1278.5 1120.5,1278.5 1121.5,1278.5 1122.5,1278.5 1123.5,1278.5 1124.5,1278.5 1125.5,1278.5 1125.5,1279.5 1126.5,1278.5 1127.5,1279.5 1127.5,1278.5 1127.5,1279.5 1127.5,1278.5 1128.5,1278.5 1129.5,1278.5 1130.5,1278.5 1131.5,1278.5 1132.5,1278.5 1132.5,1279.5 1133.5,1279.5 1133.5,1278.5 1133.5,1279.5 1134.5,1278.5 1135.5,1279.5 1135.5,1278.5 1135.5,1279.5 1135.5,1278.5 1136.5,1278.5 1137.5,1278.5 1137.5,1279.5 1138.5,1278.5 1139.5,1278.5 1140.5,1278.5 1141.5,1278.5 1141.5,1279.5 1141.5,1278.5 1142.5,1278.5 1142.5,1279.5 1142.5,1278.5 1143.5,1278.5 1144.5,1278.5 1145.5,1278.5 1146.5,1278.5 1147.5,1278.5 1148.5,1278.5 1149.5,1278.5 1149.5,1279.5 1149.5,1278.5 1150.5,1278.5 1151.5,1279.5 1151.5,1278.5 1151.5,1279.5 1151.5,1278.5 1152.5,1278.5 1153.5,1278.5 1154.5,1278.5 1155.5,1278.5 1156.5,1278.5 1157.5,1278.5 1158.5,1278.5 1159.5,1278.5 1160.5,1278.5 1161.5,1278.5 1162.5,1278.5 1162.5,1277.5 1162.5,1278.5 1162.5,1277.5 1163.5,1277.5 1163.5,1278.5 1164.5,1278.5 1164.5,1277.5 1164.5,1278.5 1164.5,1277.5 1165.5,1278.5 1165.5,1277.5 1165.5,1278.5 1166.5,1277.5 1166.5,1278.5 1166.5,1277.5 1167.5,1278.5 1167.5,1277.5 1167.5,1278.5 1168.5,1278.5 1168.5,1277.5 1168.5,1278.5 1168.5,1277.5 1169.5,1278.5 1169.5,1277.5 1169.5,1278.5 1169.5,1277.5 1170.5,1277.5 1170.5,1276.5 1170.5,1277.5 1171.5,1277.5 1172.5,1277.5 1172.5,1276.5 1172.5,1277.5 1172.5,1276.5 1173.5,1276.5 1173.5,1277.5 1173.5,1276.5 1174.5,1275.5 1175.5,1276.5 1175.5,1274.5 1175.5,1276.5 1175.5,1274.5 1176.5,1273.5 1176.5,1272.5 1176.5,1273.5 1176.5,1272.5 1177.5,1272.5 1177.5,1271.5 1177.5,1272.5 1177.5,1271.5 1178.5,1271.5 1178.5,1269.5 1178.5,1271.5 1178.5,1269.5 1179.5,1267.5 1179.5,1266.5 1179.5,1267.5 1180.5,1266.5 1180.5,1263.5 1180.5,1266.5 1180.5,1263.5 1181.5,1262.5 1182.5,1260.5 1182.5,1259.5 1182.5,1261.5 1182.5,1259.5 1183.5,1261.5 1183.5,1259.5 1183.5,1261.5 1183.5,1259.5 1184.5,1259.5 1184.5,1261.5 1185.5,1261.5 1185.5,1263.5 1186.5,1264.5 1186.5,1265.5 1186.5,1264.5 1187.5,1266.5 1187.5,1268.5 1188.5,1268.5 1188.5,1271.5 1189.5,1271.5 1189.5,1272.5 1189.5,1271.5 1190.5,1272.5 1190.5,1274.5 1191.5,1274.5 1191.5,1275.5 1192.5,1274.5 1192.5,1276.5 1193.5,1275.5 1193.5,1276.5 1194.5,1277.5 1194.5,1276.5 1194.5,1277.5 1194.5,1276.5 1195.5,1277.5 1196.5,1277.5 1196.5,1278.5 1197.5,1277.5 1198.5,1277.5 1199.5,1277.5 1199.5,1278.5 1200.5,1278.5 1200.5,1277.5 1200.5,1278.5 1200.5,1277.5 1201.5,1278.5 1202.5,1278.5 1202.5,1277.5 1202.5,1278.5 1202.5,1277.5 1203.5,1278.5 1204.5,1277.5 1204.5,1278.5 1205.5,1278.5 1206.5,1278.5 1207.5,1278.5 1207.5,1277.5 1207.5,1278.5 1208.5,1278.5 1209.5,1278.5 1210.5,1278.5 1211.5,1278.5 1212.5,1278.5 1213.5,1278.5 1214.5,1278.5 1215.5,1278.5 1216.5,1278.5 1217.5,1278.5 1218.5,1278.5 1219.5,1278.5 1220.5,1278.5 1221.5,1278.5 1222.5,1278.5 1222.5,1279.5 1223.5,1278.5 1224.5,1278.5 1224.5,1279.5 1224.5,1278.5 1225.5,1278.5 1226.5,1278.5 1227.5,1278.5 1228.5,1278.5 1229.5,1278.5 1230.5,1278.5 1231.5,1278.5 1232.5,1279.5 1232.5,1278.5 1232.5,1279.5 1233.5,1278.5 1234.5,1278.5 1234.5,1279.5 1235.5,1278.5 1236.5,1278.5 1237.5,1278.5 1238.5,1278.5 1239.5,1278.5 1240.5,1278.5 1241.5,1278.5 1242.5,1278.5 1243.5,1278.5 1243.5,1277.5 1243.5,1278.5 1244.5,1278.5 1245.5,1278.5 1246.5,1278.5 1247.5,1278.5 1247.5,1277.5 1247.5,1278.5 1247.5,1277.5 1248.5,1278.5 1248.5,1277.5 1248.5,1278.5 1248.5,1277.5 1249.5,1277.5 1249.5,1278.5 1250.5,1277.5 1250.5,1276.5 1250.5,1277.5 1250.5,1276.5 1251.5,1277.5 1251.5,1276.5 1251.5,1277.5 1251.5,1276.5 1252.5,1276.5 1253.5,1276.5 1253.5,1275.5 1253.5,1276.5 1253.5,1275.5 1254.5,1275.5 1255.5,1274.5 1255.5,1273.5 1255.5,1274.5 1256.5,1274.5 1257.5,1274.5 1257.5,1275.5 1258.5,1274.5 1258.5,1275.5 1259.5,1275.5 1259.5,1276.5 1260.5,1275.5 1260.5,1276.5 1261.5,1276.5 1261.5,1275.5 1261.5,1276.5 1262.5,1276.5 1262.5,1277.5 1262.5,1276.5 1263.5,1276.5 1263.5,1277.5 1264.5,1277.5 1264.5,1278.5 1265.5,1277.5 1266.5,1278.5 1266.5,1277.5 1266.5,1278.5 1266.5,1277.5 1267.5,1277.5 1267.5,1278.5 1268.5,1278.5 1269.5,1278.5 1269.5,1277.5 1269.5,1278.5 1269.5,1277.5 1270.5,1278.5 1271.5,1278.5 1272.5,1278.5 1273.5,1278.5 1274.5,1278.5 1275.5,1278.5 1276.5,1278.5 1276.5,1277.5 1276.5,1278.5 1277.5,1278.5 1278.5,1278.5 1279.5,1278.5 1280.5,1278.5 1281.5,1278.5 1282.5,1278.5 1283.5,1279.5 1283.5,1278.5 1283.5,1279.5 1283.5,1278.5 1284.5,1278.5 1285.5,1278.5 1286.5,1278.5 1286.5,1279.5 1287.5,1278.5 1288.5,1278.5 1289.5,1278.5 1289.5,1277.5 1289.5,1278.5 1290.5,1278.5 1291.5,1279.5 1291.5,1278.5 1291.5,1279.5 1291.5,1278.5 1292.5,1278.5 1293.5,1278.5 1294.5,1278.5 1294.5,1277.5 1294.5,1278.5 1294.5,1277.5 1295.5,1278.5 1296.5,1278.5 1297.5,1278.5 1298.5,1278.5 1298.5,1277.5 1298.5,1278.5 1298.5,1277.5 1299.5,1278.5 1299.5,1277.5 1299.5,1278.5 1299.5,1277.5 1300.5,1278.5 1301.5,1277.5 1301.5,1278.5 1302.5,1277.5 1302.5,1278.5 1302.5,1277.5 1303.5,1278.5 1303.5,1277.5 1303.5,1278.5 1303.5,1277.5 1304.5,1278.5 1304.5,1277.5 1304.5,1278.5 1305.5,1277.5 1305.5,1278.5 1305.5,1277.5 1306.5,1277.5 1307.5,1277.5 1308.5,1277.5 1308.5,1276.5 1308.5,1277.5 1309.5,1277.5 1310.5,1277.5 1311.5,1276.5 1311.5,1277.5 1312.5,1276.5 1312.5,1275.5 1312.5,1276.5 1312.5,1275.5 1313.5,1276.5 1314.5,1275.5 1315.5,1274.5 1315.5,1275.5 1316.5,1274.5 1316.5,1273.5 1316.5,1274.5 1316.5,1273.5 1317.5,1273.5 1317.5,1272.5 1317.5,1273.5 1317.5,1272.5 1318.5,1272.5 1318.5,1271.5 1318.5,1272.5 1318.5,1271.5 1319.5,1271.5 1319.5,1269.5 1319.5,1271.5 1319.5,1269.5 1320.5,1269.5 1320.5,1268.5 1320.5,1269.5 1320.5,1268.5 1321.5,1266.5 1321.5,1267.5 1321.5,1266.5 1322.5,1266.5 1322.5,1265.5 1322.5,1266.5 1322.5,1265.5 1323.5,1265.5 1323.5,1263.5 1323.5,1265.5 1323.5,1263.5 1324.5,1263.5 1324.5,1264.5 1324.5,1263.5 1325.5,1262.5 1325.5,1260.5 1325.5,1262.5 1325.5,1260.5 1326.5,1260.5 1326.5,1261.5 1326.5,1260.5 1327.5,1260.5 1327.5,1257.5 1327.5,1260.5 1327.5,1257.5 1328.5,1257.5 1328.5,1258.5 1328.5,1257.5 1329.5,1256.5 1329.5,1255.5 1329.5,1257.5 1329.5,1255.5 1330.5,1256.5 1330.5,1255.5 1330.5,1256.5 1330.5,1255.5 1331.5,1255.5 1331.5,1256.5 1331.5,1255.5 1332.5,1255.5 1332.5,1257.5 1333.5,1256.5 1333.5,1258.5 1334.5,1258.5 1334.5,1259.5 1335.5,1261.5 1335.5,1263.5 1336.5,1264.5 1336.5,1265.5 1337.5,1267.5 1337.5,1266.5 1337.5,1269.5 1338.5,1269.5 1338.5,1270.5 1339.5,1269.5 1339.5,1271.5 1340.5,1271.5 1340.5,1273.5 1340.5,1272.5 1341.5,1272.5 1341.5,1274.5 1342.5,1275.5 1342.5,1274.5 1342.5,1275.5 1342.5,1274.5 1343.5,1275.5 1344.5,1275.5 1344.5,1277.5 1345.5,1276.5 1346.5,1276.5 1347.5,1276.5 1347.5,1277.5 1348.5,1277.5 1348.5,1276.5 1348.5,1277.5 1348.5,1276.5 1349.5,1276.5 1349.5,1277.5 1350.5,1278.5 1350.5,1277.5 1350.5,1278.5 1350.5,1277.5 1351.5,1277.5 1352.5,1278.5 1352.5,1277.5 1352.5,1278.5 1352.5,1277.5 1353.5,1278.5 1353.5,1277.5 1353.5,1278.5 1353.5,1277.5 1354.5,1278.5 1354.5,1277.5 1354.5,1278.5 1354.5,1277.5 1355.5,1277.5 1356.5,1278.5 1356.5,1277.5 1356.5,1278.5 1356.5,1277.5 1357.5,1277.5 1357.5,1278.5 1358.5,1278.5 1358.5,1277.5 1358.5,1278.5 1358.5,1277.5 1359.5,1278.5 1360.5,1278.5 1360.5,1279.5 1361.5,1278.5" fill="none" stroke="#ff0000" stroke-width="1" stroke-linejoin="bevel" shape-rendering="crispEdges"/>
<text x="571.0" y="753.9" font-size="25.3" text-anchor="start" >qtz</text>
<text x="460.0" y="1199.5" font-size="25.3" text-anchor="start" >qtz</text>
<text x="419.5" y="1253.9" font-size="25.3" text-anchor="start" >mog</text>
<text x="618.7" y="1253.4" font-size="25.3" text-anchor="start" >cal</text>
<text x="744.8" y="1236.9" font-size="25.3" text-anchor="start" >qtz</text>
<text x="803.0" y="1220.0" font-size="25.3" text-anchor="start" >qtz</text>
<text x="849.9" y="1237.4" font-size="25.3" text-anchor="start" >qtz</text>
<text x="911.1" y="1248.8" font-size="25.3" text-anchor="start" >qtz</text>
<text x="987.7" y="1216.6" font-size="25.3" text-anchor="start" >qtz</text>
<text x="1073.9" y="1249.6" font-size="25.3" text-anchor="start" >qtz</text>
<text x="1163.7" y="1240.0" font-size="25.3" text-anchor="start" >qtz</text>
<text x="1236.7" y="1256.4" font-size="25.3" text-anchor="start" >qtz</text>
<text x="1313.1" y="1234.9" font-size="25.3" text-anchor="start" >qtz</text>
<rect x="156.2" y="1459.9" width="1207.8" height="2.2" fill="#000"/>
<rect x="156.2" y="2008" width="1207.8" height="2" fill="#000"/>
<rect x="156.2" y="1459.9" width="2" height="550.1" fill="#000"/>
<rect x="1362.0" y="1459.9" width="2" height="550.1" fill="#000"/>
<rect x="143" y="1532" width="14" height="1" fill="#000"/>
<text x="107.7" y="1537.5" font-size="15" textLength="28.0" lengthAdjust="spacingAndGlyphs" fill="#000">6000</text>
<rect x="143" y="1691" width="14" height="1" fill="#000"/>
<text x="107.7" y="1696.2" font-size="15" textLength="28.0" lengthAdjust="spacingAndGlyphs" fill="#000">4000</text>
<rect x="143" y="1849" width="14" height="1" fill="#000"/>
<text x="107.7" y="1854.2" font-size="15" textLength="28.0" lengthAdjust="spacingAndGlyphs" fill="#000">2000</text>
<rect x="143" y="2007" width="14" height="1" fill="#000"/>
<text x="128.7" y="2011.9" font-size="15" textLength="7.0" lengthAdjust="spacingAndGlyphs" fill="#000">0</text>
<rect x="175" y="2009.0" width="1" height="5" fill="#000"/>
<rect x="193" y="2009.0" width="1" height="5" fill="#000"/>
<rect x="211" y="2009.0" width="1" height="5" fill="#000"/>
<rect x="229" y="2009.0" width="1" height="5" fill="#000"/>
<rect x="247" y="2009.0" width="1" height="5" fill="#000"/>
<rect x="264" y="2009.0" width="2" height="5" fill="#000"/>
<rect x="283" y="2009.0" width="1" height="14" fill="#000"/>
<text x="276.2" y="2037.9" font-size="15" textLength="13.8" lengthAdjust="spacingAndGlyphs" fill="#000">10</text>
<rect x="301" y="2009.0" width="1" height="5" fill="#000"/>
<rect x="319" y="2009.0" width="1" height="5" fill="#000"/>
<rect x="337" y="2009.0" width="1" height="5" fill="#000"/>
<rect x="355" y="2009.0" width="1" height="5" fill="#000"/>
<rect x="373" y="2009.0" width="1" height="5" fill="#000"/>
<rect x="391" y="2009.0" width="1" height="5" fill="#000"/>
<rect x="409" y="2009.0" width="1" height="5" fill="#000"/>
<rect x="427" y="2009.0" width="1" height="5" fill="#000"/>
<rect x="445" y="2009.0" width="1" height="5" fill="#000"/>
<rect x="462" y="2009.0" width="1" height="14" fill="#000"/>
<text x="455.4" y="2037.9" font-size="15" textLength="13.8" lengthAdjust="spacingAndGlyphs" fill="#000">20</text>
<rect x="481" y="2009.0" width="1" height="5" fill="#000"/>
<rect x="499" y="2009.0" width="1" height="5" fill="#000"/>
<rect x="517" y="2009.0" width="1" height="5" fill="#000"/>
<rect x="535" y="2009.0" width="1" height="5" fill="#000"/>
<rect x="553" y="2009.0" width="1" height="5" fill="#000"/>
<rect x="571" y="2009.0" width="1" height="5" fill="#000"/>
<rect x="589" y="2009.0" width="1" height="5" fill="#000"/>
<rect x="607" y="2009.0" width="1" height="5" fill="#000"/>
<rect x="625" y="2009.0" width="1" height="5" fill="#000"/>
<rect x="642" y="2009.0" width="1" height="14" fill="#000"/>
<text x="635.5" y="2037.9" font-size="15" textLength="13.8" lengthAdjust="spacingAndGlyphs" fill="#000">30</text>
<rect x="661" y="2009.0" width="1" height="5" fill="#000"/>
<rect x="679" y="2009.0" width="1" height="5" fill="#000"/>
<rect x="697" y="2009.0" width="1" height="5" fill="#000"/>
<rect x="715" y="2009.0" width="1" height="5" fill="#000"/>
<rect x="733" y="2009.0" width="1" height="5" fill="#000"/>
<rect x="751" y="2009.0" width="1" height="5" fill="#000"/>
<rect x="769" y="2009.0" width="1" height="5" fill="#000"/>
<rect x="787" y="2009.0" width="1" height="5" fill="#000"/>
<rect x="805" y="2009.0" width="1" height="5" fill="#000"/>
<rect x="822" y="2009.0" width="1" height="14" fill="#000"/>
<text x="815.7" y="2037.9" font-size="15" textLength="13.8" lengthAdjust="spacingAndGlyphs" fill="#000">40</text>
<rect x="841" y="2009.0" width="1" height="5" fill="#000"/>
<rect x="859" y="2009.0" width="1" height="5" fill="#000"/>
<rect x="877" y="2009.0" width="1" height="5" fill="#000"/>
<rect x="895" y="2009.0" width="1" height="5" fill="#000"/>
<rect x="913" y="2009.0" width="1" height="5" fill="#000"/>
<rect x="932" y="2009.0" width="1" height="5" fill="#000"/>
<rect x="949" y="2009.0" width="2" height="5" fill="#000"/>
<rect x="968" y="2009.0" width="1" height="5" fill="#000"/>
<rect x="986" y="2009.0" width="1" height="5" fill="#000"/>
<rect x="1003" y="2009.0" width="1" height="14" fill="#000"/>
<text x="995.9" y="2037.9" font-size="15" textLength="13.8" lengthAdjust="spacingAndGlyphs" fill="#000">50</text>
<rect x="1022" y="2009.0" width="1" height="5" fill="#000"/>
<rect x="1040" y="2009.0" width="1" height="5" fill="#000"/>
<rect x="1058" y="2009.0" width="1" height="5" fill="#000"/>
<rect x="1076" y="2009.0" width="1" height="5" fill="#000"/>
<rect x="1094" y="2009.0" width="1" height="5" fill="#000"/>
<rect x="1112" y="2009.0" width="1" height="5" fill="#000"/>
<rect x="1130" y="2009.0" width="1" height="5" fill="#000"/>
<rect x="1148" y="2009.0" width="1" height="5" fill="#000"/>
<rect x="1166" y="2009.0" width="1" height="5" fill="#000"/>
<rect x="1183" y="2009.0" width="1" height="14" fill="#000"/>
<text x="1176.0" y="2037.9" font-size="15" textLength="13.8" lengthAdjust="spacingAndGlyphs" fill="#000">60</text>
<rect x="1202" y="2009.0" width="1" height="5" fill="#000"/>
<rect x="1220" y="2009.0" width="1" height="5" fill="#000"/>
<rect x="1238" y="2009.0" width="1" height="5" fill="#000"/>
<rect x="1256" y="2009.0" width="1" height="5" fill="#000"/>
<rect x="1274" y="2009.0" width="1" height="5" fill="#000"/>
<rect x="1291" y="2009.0" width="2" height="5" fill="#000"/>
<rect x="1310" y="2009.0" width="1" height="5" fill="#000"/>
<rect x="1328" y="2009.0" width="1" height="5" fill="#000"/>
<rect x="1346" y="2009.0" width="1" height="5" fill="#000"/>
<text x="3.6" y="1455.9" font-size="38" text-anchor="start" textLength="119.2" lengthAdjust="spacingAndGlyphs">Counts</text>
<text x="173.4" y="1510.0" font-size="38" text-anchor="start" textLength="188.3" lengthAdjust="spacingAndGlyphs">OZN-05RC</text>
<text x="524.2" y="2084.0" font-size="38" text-anchor="start" textLength="537.7" lengthAdjust="spacingAndGlyphs">Position [°2Theta] (Copper (Cu))</text>
<polyline points="158.5,1964.5 158.5,1963.5 158.5,1964.5 158.5,1963.5 159.5,1965.5 159.5,1964.5 159.5,1965.5 160.5,1965.5 160.5,1964.5 160.5,1965.5 161.5,1966.5 162.5,1967.5 162.5,1966.5 162.5,1968.5 163.5,1967.5 163.5,1969.5 164.5,1969.5 165.5,1969.5 166.5,1970.5 167.5,1970.5 167.5,1971.5 168.5,1972.5 168.5,1971.5 168.5,1973.5 169.5,1972.5 169.5,1971.5 169.5,1973.5 170.5,1972.5 170.5,1973.5 171.5,1973.5 172.5,1974.5 172.5,1975.5 173.5,1975.5 173.5,1976.5 174.5,1975.5 174.5,1977.5 174.5,1976.5 175.5,1977.5 175.5,1976.5 175.5,1977.5 175.5,1976.5 176.5,1978.5 176.5,1977.5 176.5,1978.5 177.5,1977.5 177.5,1979.5 177.5,1977.5 178.5,1979.5 179.5,1979.5 179.5,1980.5 180.5,1980.5 180.5,1979.5 180.5,1982.5 181.5,1980.5 181.5,1981.5 182.5,1981.5 182.5,1982.5 182.5,1981.5 183.5,1982.5 183.5,1983.5 184.5,1983.5 184.5,1984.5 185.5,1982.5 185.5,1986.5 186.5,1984.5 187.5,1985.5 188.5,1985.5 188.5,1986.5 189.5,1985.5 189.5,1987.5 190.5,1986.5 190.5,1988.5 191.5,1988.5 191.5,1989.5 192.5,1989.5 193.5,1988.5 193.5,1990.5 194.5,1989.5 194.5,1990.5 195.5,1990.5 195.5,1991.5 196.5,1991.5 196.5,1992.5 196.5,1991.5 197.5,1991.5 197.5,1992.5 198.5,1993.5 199.5,1993.5 199.5,1994.5 200.5,1994.5 201.5,1995.5 201.5,1996.5 201.5,1995.5 202.5,1994.5 202.5,1996.5 203.5,1996.5 203.5,1995.5 203.5,1996.5 204.5,1996.5 205.5,1997.5 205.5,1998.5 206.5,1997.5 207.5,1998.5 208.5,1998.5 208.5,1999.5 209.5,1999.5 209.5,1998.5 209.5,1999.5 210.5,1999.5 211.5,2000.5 211.5,1999.5 211.5,2000.5 211.5,1999.5 212.5,2000.5 213.5,2000.5 214.5,2001.5 214.5,2000.5 214.5,2001.5 214.5,2000.5 215.5,2000.5 215.5,2001.5 216.5,2001.5 217.5,2001.5 218.5,2001.5 218.5,2002.5 218.5,2001.5 219.5,2001.5 219.5,2002.5 219.5,2001.5 220.5,2002.5 220.5,2001.5 220.5,2002.5 221.5,2002.5 221.5,2001.5 221.5,2002.5 222.5,2002.5 223.5,2002.5 224.5,2002.5 225.5,2002.5 226.5,2002.5 227.5,2002.5 227.5,2003.5 227.5,2002.5 228.5,2003.5 228.5,2002.5 228.5,2003.5 228.5,2002.5 229.5,2002.5 229.5,2003.5 230.5,2003.5 230.5,2002.5 230.5,2003.5 230.5,2002.5 231.5,2003.5 231.5,2002.5 231.5,2003.5 231.5,2002.5 232.5,2002.5 232.5,2003.5 232.5,2002.5 233.5,2003.5 233.5,2002.5 233.5,2003.5 234.5,2003.5 234.5,2002.5 234.5,2003.5 234.5,2002.5 235.5,2002.5 235.5,2003.5 235.5,2002.5 236.5,2003.5 237.5,2002.5 237.5,2003.5 238.5,2002.5 238.5,2003.5 238.5,2002.5 239.5,2003.5 239.5,2002.5 239.5,2003.5 239.5,2002.5 240.5,2002.5 241.5,2002.5 241.5,2003.5 241.5,2002.5 242.5,2002.5 242.5,2003.5 242.5,2002.5 243.5,2003.5 243.5,2002.5 243.5,2003.5 244.5,2003.5 244.5,2002.5 244.5,2003.5 244.5,2002.5 245.5,2002.5 245.5,2003.5 246.5,2003.5 246.5,2002.5 246.5,2003.5 246.5,2002.5 247.5,2003.5 247.5,2002.5 247.5,2003.5 248.5,2003.5 248.5,2002.5 248.5,2003.5 249.5,2003.5 249.5,2002.5 249.5,2003.5 250.5,2003.5 250.5,2002.5 250.5,2003.5 250.5,2002.5 251.5,2003.5 252.5,2003.5 252.5,2002.5 252.5,2003.5 252.5,2002.5 253.5,2003.5 253.5,2002.5 253.5,2003.5 253.5,2002.5 254.5,2003.5 254.5,2002.5 254.5,2003.5 255.5,2003.5 255.5,2002.5 255.5,2003.5 255.5,2002.5 256.5,2002.5 256.5,2003.5 257.5,2002.5 257.5,2003.5 258.5,2003.5 258.5,2002.5 258.5,2003.5 258.5,2002.5 259.5,2002.5 259.5,2003.5 260.5,2003.5 260.5,2002.5 260.5,2003.5 261.5,2002.5 261.5,2003.5 261.5,2002.5 262.5,2002.5 263.5,2003.5 263.5,2002.5 263.5,2003.5 263.5,2002.5 264.5,2003.5 265.5,2003.5 266.5,2003.5 267.5,2002.5 267.5,2003.5 268.5,2003.5 268.5,2002.5 268.5,2003.5 268.5,2002.5 269.5,2003.5 269.5,2002.5 269.5,2003.5 270.5,2003.5 270.5,2002.5 270.5,2003.5 270.5,2002.5 271.5,2003.5 271.5,2002.5 271.5,2003.5 271.5,2002.5 272.5,2002.5 272.5,2003.5 273.5,2003.5 274.5,2003.5 275.5,2003.5 275.5,2002.5 275.5,2003.5 275.5,2002.5 276.5,2003.5 276.5,2002.5 276.5,2003.5 276.5,2002.5 277.5,2002.5 277.5,2003.5 278.5,2002.5 279.5,2002.5 279.5,2003.5 280.5,2002.5 280.5,2003.5 281.5,2003.5 281.5,2002.5 281.5,2003.5 282.5,2002.5 282.5,2003.5 283.5,2003.5 284.5,2003.5 284.5,2002.5 284.5,2003.5 284.5,2002.5 285.5,2003.5 285.5,2002.5 285.5,2003.5 285.5,2002.5 286.5,2002.5 286.5,2003.5 287.5,2003.5 287.5,2002.5 287.5,2003.5 287.5,2002.5 288.5,2003.5 289.5,2002.5 289.5,2003.5 290.5,2003.5 291.5,2003.5 291.5,2002.5 291.5,2003.5 292.5,2003.5 292.5,2002.5 292.5,2003.5 293.5,2002.5 294.5,2002.5 294.5,2003.5 295.5,2003.5 295.5,2002.5 295.5,2003.5 296.5,2002.5 296.5,2003.5 297.5,2002.5 297.5,2003.5 298.5,2002.5 298.5,2003.5 299.5,2002.5 299.5,2003.5 300.5,2002.5 301.5,2002.5 301.5,2003.5 302.5,2003.5 302.5,2002.5 302.5,2003.5 302.5,2002.5 303.5,2002.5 304.5,2003.5 304.5,2002.5 304.5,2003.5 305.5,2002.5 305.5,2003.5 306.5,2002.5 306.5,2003.5 307.5,2003.5 307.5,2002.5 307.5,2003.5 307.5,2002.5 308.5,2003.5 309.5,2003.5 310.5,2003.5 311.5,2003.5 311.5,2002.5 311.5,2003.5 311.5,2002.5 312.5,2002.5 312.5,2003.5 313.5,2002.5 313.5,2003.5 314.5,2002.5 314.5,2003.5 315.5,2003.5 316.5,2002.5 317.5,2003.5 318.5,2003.5 318.5,2002.5 318.5,2003.5 318.5,2002.5 319.5,2002.5 319.5,2003.5 320.5,2003.5 321.5,2003.5 321.5,2002.5 321.5,2003.5 322.5,2003.5 322.5,2002.5 322.5,2003.5 322.5,2002.5 323.5,2002.5 324.5,2002.5 324.5,2003.5 325.5,2002.5 325.5,2003.5 326.5,2002.5 326.5,2003.5 327.5,2003.5 328.5,2002.5 328.5,2003.5 329.5,2002.5 330.5,2003.5 330.5,2002.5 330.5,2003.5 331.5,2002.5 331.5,2003.5 332.5,2003.5 333.5,2003.5 333.5,2002.5 333.5,2003.5 333.5,2002.5 334.5,2003.5 335.5,2002.5 335.5,2003.5 336.5,2003.5 336.5,2002.5 336.5,2003.5 336.5,2002.5 337.5,2002.5 338.5,2002.5 338.5,2003.5 339.5,2003.5 339.5,2002.5 339.5,2003.5 339.5,2002.5 340.5,2002.5 340.5,2003.5 341.5,2002.5 342.5,2002.5 342.5,2003.5 342.5,2002.5 343.5,2003.5 343.5,2002.5 343.5,2003.5 343.5,2002.5 344.5,2002.5 344.5,2003.5 345.5,2002.5 346.5,2003.5 346.5,2002.5 346.5,2003.5 347.5,2002.5 348.5,2003.5 348.5,2002.5 348.5,2003.5 348.5,2002.5 349.5,2002.5 350.5,2002.5 351.5,2002.5 352.5,2002.5 353.5,2002.5 353.5,2001.5 353.5,2002.5 354.5,2002.5 355.5,2002.5 356.5,2002.5 357.5,2002.5 358.5,2002.5 359.5,2002.5 360.5,2001.5 360.5,2002.5 361.5,2002.5 362.5,2002.5 363.5,2001.5 363.5,2002.5 364.5,2002.5 365.5,2002.5 366.5,2002.5 367.5,2002.5 367.5,2001.5 367.5,2002.5 367.5,2001.5 368.5,2002.5 368.5,2001.5 368.5,2002.5 368.5,2001.5 369.5,2001.5 369.5,2002.5 370.5,2001.5 370.5,2002.5 371.5,2002.5 371.5,2001.5 371.5,2002.5 371.5,2001.5 372.5,2002.5 372.5,2001.5 372.5,2002.5 372.5,2001.5 373.5,2001.5 374.5,2002.5 374.5,2001.5 374.5,2002.5 375.5,2001.5 375.5,2002.5 375.5,2001.5 376.5,2002.5 376.5,2001.5 376.5,2002.5 376.5,2001.5 377.5,2001.5 377.5,2002.5 378.5,2001.5 379.5,2002.5 379.5,2001.5 379.5,2002.5 379.5,2001.5 380.5,2002.5 381.5,2001.5 381.5,2002.5 381.5,2001.5 382.5,2002.5 383.5,2002.5 384.5,2002.5 385.5,2002.5 386.5,2002.5 387.5,2002.5 388.5,2002.5 388.5,2001.5 388.5,2002.5 388.5,2001.5 389.5,2002.5 390.5,2002.5 390.5,2001.5 390.5,2002.5 391.5,2002.5 392.5,2002.5 393.5,2002.5 394.5,2002.5 395.5,2002.5 396.5,2002.5 396.5,2001.5 396.5,2002.5 396.5,2001.5 397.5,2002.5 397.5,2003.5 398.5,2002.5 398.5,2003.5 399.5,2002.5 400.5,2002.5 401.5,2001.5 401.5,2002.5 402.5,2002.5 403.5,2002.5 403.5,2003.5 404.5,2003.5 404.5,2002.5 404.5,2003.5 405.5,2003.5 405.5,2002.5 405.5,2003.5 405.5,2002.5 406.5,2002.5 406.5,2003.5 407.5,2002.5 407.5,2003.5 408.5,2002.5 408.5,2003.5 409.5,2003.5 409.5,2002.5 409.5,2003.5 409.5,2002.5 410.5,2002.5 410.5,2003.5 411.5,2003.5 411.5,2002.5 411.5,2003.5 411.5,2002.5 412.5,2002.5 413.5,2003.5 413.5,2002.5 413.5,2003.5 413.5,2002.5 414.5,2002.5 414.5,2003.5 415.5,2002.5 415.5,2003.5 416.5,2003.5 417.5,2002.5 417.5,2003.5 417.5,2002.5 418.5,2003.5 418.5,2002.5 418.5,2003.5 419.5,2002.5 419.5,2003.5 420.5,2002.5 421.5,2003.5 422.5,2003.5 422.5,2002.5 422.5,2003.5 422.5,2002.5 423.5,2003.5 423.5,2002.5 423.5,2003.5 424.5,2002.5 424.5,2003.5 425.5,2002.5 425.5,2003.5 426.5,2002.5 427.5,2003.5 427.5,2002.5 427.5,2003.5 427.5,2002.5 428.5,2003.5 428.5,2002.5 428.5,2003.5 428.5,2002.5 429.5,2003.5 429.5,2002.5 429.5,2003.5 430.5,2003.5 430.5,2002.5 430.5,2003.5 430.5,2002.5 431.5,2003.5 431.5,2002.5 431.5,2003.5 431.5,2002.5 432.5,2003.5 432.5,2002.5 432.5,2003.5 432.5,2002.5 433.5,2002.5 433.5,2003.5 433.5,2002.5 434.5,2002.5 434.5,2003.5 435.5,2002.5 436.5,2003.5 436.5,2002.5 436.5,2003.5 437.5,2002.5 437.5,2003.5 437.5,2002.5 438.5,2002.5 438.5,2003.5 438.5,2002.5 439.5,2002.5 440.5,2002.5 441.5,2003.5 441.5,2002.5 441.5,2003.5 441.5,2002.5 442.5,2002.5 442.5,2003.5 443.5,2002.5 443.5,2003.5 443.5,2002.5 444.5,2002.5 444.5,2003.5 445.5,2003.5 446.5,2003.5 446.5,2002.5 446.5,2003.5 446.5,2002.5 447.5,2003.5 447.5,2002.5 447.5,2003.5 447.5,2002.5 448.5,2003.5 449.5,2002.5 449.5,2003.5 450.5,2002.5 451.5,2003.5 452.5,2003.5 452.5,2002.5 452.5,2003.5 452.5,2002.5 453.5,2002.5 453.5,2003.5 453.5,2002.5 454.5,2003.5 454.5,2002.5 454.5,2003.5 454.5,2002.5 455.5,2003.5 455.5,2002.5 455.5,2003.5 455.5,2002.5 456.5,2003.5 457.5,2003.5 458.5,2002.5 458.5,2003.5 459.5,2002.5 459.5,2003.5 460.5,2002.5 460.5,2003.5 461.5,2003.5 461.5,2002.5 461.5,2003.5 461.5,2002.5 462.5,2003.5 462.5,2002.5 462.5,2003.5 462.5,2002.5 463.5,2003.5 463.5,2002.5 463.5,2003.5 463.5,2002.5 464.5,2003.5 464.5,2002.5 464.5,2003.5 464.5,2002.5 465.5,2002.5 466.5,2002.5 467.5,2002.5 467.5,2003.5 468.5,2003.5 468.5,2002.5 468.5,2003.5 469.5,2002.5 469.5,2003.5 470.5,2002.5 471.5,2003.5 471.5,2002.5 471.5,2003.5 471.5,2002.5 472.5,2002.5 473.5,2002.5 474.5,2002.5 474.5,2003.5 475.5,2002.5 476.5,2003.5 476.5,2002.5 476.5,2003.5 476.5,2002.5 477.5,2002.5 478.5,2002.5 479.5,2003.5 479.5,2002.5 479.5,2003.5 479.5,2002.5 480.5,2002.5 481.5,2003.5 481.5,2002.5 481.5,2003.5 481.5,2002.5 482.5,2002.5 482.5,2001.5 482.5,2003.5 483.5,2002.5 483.5,2003.5 484.5,2002.5 484.5,2003.5 484.5,2002.5 485.5,2002.5 485.5,2003.5 486.5,2002.5 486.5,2003.5 487.5,2003.5 487.5,2002.5 487.5,2003.5 488.5,2002.5 489.5,2003.5 489.5,2002.5 489.5,2003.5 489.5,2002.5 490.5,2002.5 491.5,2002.5 492.5,2002.5 493.5,2002.5 493.5,2001.5 493.5,2002.5 493.5,2001.5 494.5,2002.5 494.5,2003.5 495.5,2002.5 496.5,2002.5 497.5,2002.5 498.5,2002.5 499.5,2002.5 499.5,2001.5 499.5,2002.5 499.5,2001.5 500.5,2002.5 500.5,2001.5 500.5,2002.5 501.5,2002.5 501.5,2001.5 501.5,2002.5 502.5,2002.5 503.5,2002.5 503.5,2001.5 503.5,2002.5 504.5,2001.5 504.5,2002.5 504.5,2001.5 505.5,2002.5 505.5,2001.5 505.5,2002.5 505.5,2001.5 506.5,2001.5 506.5,2002.5 506.5,2001.5 507.5,2001.5 507.5,2000.5 507.5,2001.5 507.5,2000.5 508.5,2001.5 508.5,2000.5 508.5,2001.5 508.5,2000.5 509.5,2001.5 509.5,2000.5 509.5,2001.5 509.5,2000.5 510.5,2000.5 511.5,2000.5 511.5,1999.5 511.5,2000.5 511.5,1999.5 512.5,1999.5 512.5,1997.5 512.5,1999.5 512.5,1997.5 513.5,1997.5 513.5,1996.5 513.5,1997.5 513.5,1996.5 514.5,1995.5 514.5,1991.5 514.5,1995.5 514.5,1991.5 515.5,1989.5 515.5,1985.5 515.5,1989.5 515.5,1985.5 516.5,1983.5 516.5,1977.5 516.5,1983.5 516.5,1977.5 517.5,1974.5 517.5,1969.5 517.5,1974.5 517.5,1969.5 518.5,1966.5 518.5,1962.5 518.5,1966.5 518.5,1962.5 519.5,1962.5 519.5,1964.5 520.5,1967.5 520.5,1973.5 521.5,1975.5 521.5,1983.5 522.5,1984.5 522.5,1988.5 523.5,1990.5 523.5,1993.5 524.5,1994.5 524.5,1996.5 525.5,1997.5 525.5,1998.5 526.5,1998.5 526.5,1999.5 527.5,2000.5 528.5,2000.5 528.5,1999.5 528.5,2000.5 529.5,2000.5 530.5,2002.5 530.5,2001.5 530.5,2002.5 530.5,2001.5 531.5,2001.5 531.5,2000.5 531.5,2001.5 531.5,2000.5 532.5,2001.5 533.5,2002.5 533.5,2001.5 533.5,2002.5 533.5,2001.5 534.5,2001.5 535.5,2000.5 535.5,2002.5 536.5,2001.5 537.5,2002.5 537.5,2001.5 537.5,2002.5 538.5,2001.5 538.5,2002.5 539.5,2002.5 540.5,2001.5 541.5,2002.5 541.5,2001.5 541.5,2002.5 541.5,2001.5 542.5,2002.5 542.5,2001.5 542.5,2002.5 543.5,2002.5 543.5,2001.5 543.5,2002.5 544.5,2001.5 545.5,2001.5 546.5,2002.5 546.5,2001.5 546.5,2002.5 547.5,2001.5 548.5,2001.5 548.5,2002.5 548.5,2001.5 549.5,2001.5 549.5,2002.5 550.5,2001.5 551.5,2002.5 551.5,2001.5 551.5,2002.5 552.5,2001.5 553.5,2002.5 554.5,2002.5 555.5,2001.5 555.5,2002.5 556.5,2001.5 556.5,2002.5 557.5,2001.5 558.5,2002.5 558.5,2001.5 558.5,2002.5 558.5,2001.5 559.5,2001.5 560.5,2002.5 560.5,2001.5 560.5,2002.5 561.5,2002.5 561.5,2000.5 561.5,2002.5 561.5,2001.5 562.5,2001.5 562.5,2002.5 563.5,2001.5 563.5,2002.5 563.5,2001.5 564.5,2001.5 565.5,2002.5 565.5,2001.5 565.5,2002.5 565.5,2001.5 566.5,2001.5 566.5,2002.5 566.5,2001.5 567.5,2001.5 568.5,2001.5 568.5,2000.5 568.5,2001.5 568.5,2000.5 569.5,2001.5 569.5,2000.5 569.5,2001.5 569.5,2000.5 570.5,2001.5 571.5,2000.5 571.5,2001.5 572.5,2001.5 573.5,2001.5 573.5,2000.5 573.5,2001.5 574.5,2001.5 574.5,2000.5 574.5,2001.5 574.5,2000.5 575.5,2001.5 575.5,2000.5 575.5,2001.5 575.5,2000.5 576.5,2000.5 577.5,2000.5 577.5,1999.5 577.5,2000.5 577.5,1999.5 578.5,2000.5 578.5,1999.5 578.5,2000.5 578.5,1999.5 579.5,1999.5 580.5,1998.5 580.5,1997.5 580.5,1998.5 580.5,1997.5 581.5,1997.5 581.5,1996.5 581.5,1997.5 581.5,1996.5 582.5,1995.5 582.5,1996.5 583.5,1995.5 583.5,1997.5 584.5,1997.5 584.5,1998.5 585.5,1999.5 586.5,1999.5 586.5,1998.5 586.5,1999.5 587.5,1999.5 587.5,2000.5 587.5,1999.5 588.5,1999.5 588.5,2000.5 589.5,2001.5 589.5,1999.5 589.5,2001.5 589.5,2000.5 590.5,1999.5 591.5,2000.5 591.5,1999.5 591.5,2000.5 592.5,1999.5 592.5,2000.5 593.5,2000.5 593.5,1999.5 593.5,2000.5 593.5,1999.5 594.5,2000.5 595.5,2000.5 595.5,1999.5 595.5,2000.5 595.5,1999.5 596.5,1999.5 597.5,2000.5 597.5,1999.5 597.5,2000.5 597.5,1999.5 598.5,2000.5 598.5,1999.5 598.5,2000.5 598.5,1999.5 599.5,2000.5 599.5,1999.5 599.5,2000.5 599.5,1999.5 600.5,1999.5 600.5,1998.5 600.5,1999.5 600.5,1998.5 601.5,1999.5 602.5,1999.5 603.5,1999.5 603.5,1998.5 603.5,1999.5 603.5,1998.5 604.5,1998.5 605.5,1998.5 606.5,1998.5 606.5,1997.5 606.5,1999.5 606.5,1997.5 607.5,1998.5 608.5,1997.5 609.5,1997.5 610.5,1997.5 610.5,1996.5 610.5,1997.5 611.5,1996.5 611.5,1997.5 611.5,1996.5 612.5,1996.5 613.5,1995.5 614.5,1995.5 614.5,1994.5 614.5,1995.5 614.5,1994.5 615.5,1994.5 616.5,1994.5 616.5,1993.5 616.5,1994.5 616.5,1993.5 617.5,1992.5 618.5,1991.5 619.5,1990.5 619.5,1991.5 619.5,1990.5 620.5,1990.5 620.5,1988.5 620.5,1990.5 620.5,1988.5 621.5,1987.5 621.5,1985.5 621.5,1987.5 621.5,1985.5 622.5,1985.5 622.5,1982.5 622.5,1985.5 622.5,1982.5 623.5,1983.5 623.5,1980.5 623.5,1983.5 623.5,1980.5 624.5,1978.5 624.5,1976.5 624.5,1978.5 624.5,1976.5 625.5,1975.5 625.5,1969.5 625.5,1975.5 625.5,1969.5 626.5,1967.5 626.5,1962.5 626.5,1967.5 626.5,1962.5 627.5,1958.5 627.5,1949.5 627.5,1958.5 627.5,1949.5 628.5,1945.5 628.5,1931.5 628.5,1945.5 628.5,1931.5 629.5,1922.5 629.5,1900.5 629.5,1922.5 629.5,1900.5 630.5,1886.5 630.5,1846.5 630.5,1886.5 630.5,1846.5 631.5,1819.5 631.5,1742.5 631.5,1819.5 631.5,1742.5 632.5,1691.5 632.5,1563.5 632.5,1691.5 632.5,1563.5 633.5,1497.5 633.5,1462.0 633.5,1497.5 633.5,1462.5 634.5,1462.5 634.5,1565.5 635.5,1631.5 635.5,1743.5 636.5,1786.5 636.5,1847.5 637.5,1869.5 637.5,1900.5 638.5,1913.5 638.5,1932.5 639.5,1939.5 639.5,1950.5 640.5,1954.5 640.5,1962.5 641.5,1965.5 641.5,1970.5 642.5,1971.5 642.5,1975.5 643.5,1977.5 643.5,1979.5 644.5,1981.5 644.5,1982.5 645.5,1983.5 645.5,1986.5 646.5,1986.5 646.5,1987.5 647.5,1988.5 647.5,1989.5 648.5,1989.5 648.5,1991.5 649.5,1991.5 650.5,1992.5 650.5,1993.5 651.5,1993.5 652.5,1993.5 653.5,1995.5 653.5,1994.5 653.5,1995.5 653.5,1994.5 654.5,1994.5 654.5,1995.5 655.5,1996.5 655.5,1995.5 655.5,1996.5 655.5,1995.5 656.5,1995.5 656.5,1996.5 657.5,1996.5 658.5,1997.5 658.5,1998.5 659.5,1996.5 660.5,1997.5 660.5,1998.5 660.5,1997.5 661.5,1997.5 661.5,1996.5 661.5,1997.5 661.5,1996.5 662.5,1997.5 662.5,1996.5 662.5,1997.5 662.5,1996.5 663.5,1996.5 663.5,1997.5 664.5,1996.5 665.5,1995.5 666.5,1994.5 667.5,1993.5 667.5,1992.5 667.5,1993.5 668.5,1992.5 668.5,1991.5 668.5,1992.5 668.5,1991.5 669.5,1990.5 669.5,1991.5 670.5,1990.5 670.5,1991.5 671.5,1992.5 671.5,1991.5 671.5,1993.5 672.5,1992.5 672.5,1994.5 673.5,1994.5 673.5,1995.5 674.5,1996.5 675.5,1996.5 675.5,1998.5 676.5,1998.5 677.5,1998.5 677.5,1999.5 678.5,1998.5 679.5,1999.5 679.5,1998.5 679.5,1999.5 679.5,1998.5 680.5,1999.5 681.5,1999.5 681.5,2000.5 681.5,1999.5 682.5,1999.5 683.5,1999.5 683.5,2000.5 683.5,1999.5 684.5,1999.5 685.5,2000.5 686.5,1999.5 686.5,2000.5 687.5,2000.5 688.5,2000.5 688.5,1999.5 688.5,2000.5 688.5,1999.5 689.5,2000.5 689.5,2001.5 690.5,2000.5 691.5,2000.5 692.5,2000.5 693.5,2001.5 693.5,2000.5 693.5,2001.5 693.5,2000.5 694.5,1999.5 694.5,2000.5 695.5,2000.5 696.5,2000.5 696.5,2001.5 696.5,2000.5 697.5,2000.5 697.5,2001.5 697.5,2000.5 698.5,2000.5 699.5,2000.5 699.5,2001.5 699.5,2000.5 700.5,2001.5 700.5,2000.5 700.5,2001.5 700.5,2000.5 701.5,2000.5 701.5,2001.5 701.5,2000.5 702.5,2000.5 703.5,2000.5 703.5,2001.5 704.5,2001.5 704.5,2000.5 704.5,2001.5 704.5,2000.5 705.5,2000.5 705.5,2001.5 705.5,2000.5 706.5,2001.5 707.5,2001.5 708.5,2001.5 708.5,2000.5 708.5,2001.5 708.5,2000.5 709.5,2000.5 709.5,2001.5 710.5,2001.5 711.5,2001.5 711.5,2000.5 711.5,2001.5 711.5,2000.5 712.5,2000.5 712.5,2001.5 713.5,2001.5 713.5,2000.5 713.5,2001.5 713.5,2000.5 714.5,2000.5 714.5,2001.5 715.5,2001.5 716.5,2001.5 716.5,2002.5 717.5,2001.5 717.5,2000.5 717.5,2001.5 717.5,2000.5 718.5,2001.5 719.5,2001.5 720.5,2001.5 721.5,2002.5 721.5,2000.5 721.5,2002.5 721.5,2001.5 722.5,2001.5 723.5,2001.5 724.5,2001.5 725.5,2001.5 726.5,2001.5 727.5,2001.5 728.5,2001.5 729.5,2001.5 730.5,2000.5 730.5,2001.5 731.5,2001.5 731.5,2000.5 731.5,2001.5 732.5,2001.5 732.5,2000.5 732.5,2001.5 733.5,2001.5 734.5,2001.5 734.5,2000.5 734.5,2001.5 734.5,2000.5 735.5,2001.5 735.5,2000.5 735.5,2001.5 735.5,2000.5 736.5,2001.5 736.5,2000.5 736.5,2001.5 736.5,2000.5 737.5,2001.5 738.5,2000.5 739.5,2000.5 740.5,2000.5 740.5,1999.5 740.5,2000.5 740.5,1999.5 741.5,2000.5 741.5,1999.5 741.5,2000.5 741.5,1999.5 742.5,2000.5 742.5,1999.5 742.5,2000.5 742.5,1999.5 743.5,1999.5 743.5,1998.5 743.5,1999.5 743.5,1998.5 744.5,1999.5 744.5,1998.5 744.5,1999.5 744.5,1998.5 745.5,1998.5 745.5,1996.5 745.5,1998.5 745.5,1996.5 746.5,1996.5 746.5,1995.5 746.5,1996.5 747.5,1994.5 747.5,1991.5 747.5,1994.5 747.5,1991.5 748.5,1990.5 748.5,1986.5 748.5,1990.5 748.5,1986.5 749.5,1984.5 749.5,1977.5 749.5,1984.5 749.5,1977.5 750.5,1974.5 750.5,1966.5 750.5,1974.5 750.5,1966.5 751.5,1962.5 751.5,1954.5 751.5,1962.5 751.5,1954.5 752.5,1950.5 752.5,1945.5 752.5,1950.5 752.5,1945.5 753.5,1946.5 753.5,1948.5 754.5,1952.5 754.5,1960.5 755.5,1964.5 755.5,1972.5 756.5,1977.5 756.5,1982.5 757.5,1985.5 757.5,1989.5 758.5,1991.5 758.5,1994.5 759.5,1994.5 759.5,1997.5 760.5,1996.5 760.5,1998.5 761.5,1997.5 761.5,1999.5 761.5,1998.5 762.5,1998.5 762.5,2000.5 763.5,1999.5 763.5,2000.5 763.5,1999.5 764.5,1999.5 765.5,2000.5 766.5,2000.5 766.5,2001.5 767.5,2001.5 767.5,2000.5 767.5,2001.5 768.5,2000.5 768.5,2001.5 769.5,2000.5 769.5,2001.5 770.5,2001.5 770.5,2000.5 770.5,2001.5 770.5,2000.5 771.5,2001.5 772.5,2000.5 772.5,2001.5 773.5,2001.5 774.5,2002.5 774.5,2001.5 774.5,2002.5 774.5,2001.5 775.5,2002.5 775.5,2001.5 775.5,2002.5 775.5,2001.5 776.5,2002.5 776.5,2001.5 776.5,2002.5 776.5,2001.5 777.5,2001.5 777.5,2002.5 777.5,2001.5 778.5,2001.5 779.5,2001.5 780.5,2001.5 780.5,2002.5 780.5,2001.5 781.5,2002.5 781.5,2001.5 781.5,2002.5 781.5,2001.5 782.5,2001.5 782.5,2002.5 783.5,2001.5 784.5,2001.5 785.5,2002.5 785.5,2001.5 785.5,2002.5 785.5,2001.5 786.5,2001.5 787.5,2001.5 787.5,2000.5 787.5,2001.5 787.5,2000.5 788.5,2001.5 789.5,2001.5 789.5,2002.5 790.5,2001.5 791.5,2001.5 791.5,2002.5 791.5,2001.5 792.5,2001.5 793.5,2000.5 793.5,2001.5 794.5,2001.5 794.5,2000.5 794.5,2001.5 794.5,2000.5 795.5,2001.5 796.5,2001.5 796.5,2000.5 796.5,2001.5 797.5,2000.5 797.5,2001.5 797.5,2000.5 798.5,2000.5 798.5,2001.5 798.5,2000.5 799.5,2000.5 800.5,2000.5 801.5,2000.5 802.5,1999.5 802.5,2000.5 802.5,1999.5 803.5,1999.5 803.5,1998.5 803.5,1999.5 804.5,1998.5 805.5,1998.5 805.5,1997.5 805.5,1998.5 805.5,1997.5 806.5,1997.5 806.5,1996.5 806.5,1997.5 806.5,1996.5 807.5,1996.5 807.5,1994.5 807.5,1996.5 807.5,1994.5 808.5,1995.5 808.5,1992.5 808.5,1995.5 808.5,1993.5 809.5,1992.5 809.5,1987.5 809.5,1992.5 809.5,1987.5 810.5,1986.5 810.5,1979.5 810.5,1986.5 810.5,1979.5 811.5,1976.5 811.5,1968.5 811.5,1976.5 811.5,1968.5 812.5,1963.5 812.5,1952.5 812.5,1963.5 812.5,1952.5 813.5,1946.5 813.5,1935.5 813.5,1946.5 813.5,1935.5 814.5,1930.5 814.5,1927.5 814.5,1930.5 814.5,1927.5 815.5,1926.5 815.5,1932.5 816.5,1939.5 816.5,1949.5 817.5,1955.5 817.5,1966.5 818.5,1970.5 818.5,1977.5 819.5,1980.5 819.5,1986.5 820.5,1987.5 820.5,1993.5 821.5,1993.5 821.5,1994.5 822.5,1994.5 822.5,1995.5 823.5,1997.5 824.5,1998.5 824.5,1997.5 824.5,1998.5 825.5,1998.5 825.5,1999.5 826.5,2000.5 826.5,1999.5 826.5,2000.5 827.5,1999.5 827.5,2000.5 828.5,1999.5 829.5,1999.5 829.5,2000.5 830.5,1999.5 830.5,2000.5 831.5,2000.5 832.5,2000.5 832.5,2001.5 833.5,2001.5 833.5,2000.5 833.5,2001.5 834.5,2001.5 835.5,2001.5 836.5,2001.5 836.5,2000.5 836.5,2001.5 836.5,2000.5 837.5,2000.5 837.5,2001.5 838.5,2001.5 839.5,2001.5 839.5,2000.5 839.5,2001.5 839.5,2000.5 840.5,2000.5 840.5,2001.5 840.5,2000.5 841.5,2001.5 842.5,2001.5 842.5,2000.5 842.5,2001.5 843.5,2001.5 844.5,2001.5 844.5,2002.5 845.5,2000.5 845.5,2001.5 846.5,2001.5 847.5,2001.5 847.5,2000.5 847.5,2001.5 848.5,2002.5 848.5,2001.5 848.5,2002.5 848.5,2001.5 849.5,2001.5 850.5,2001.5 851.5,2001.5 851.5,2000.5 851.5,2001.5 851.5,2000.5 852.5,2001.5 853.5,2001.5 854.5,2001.5 854.5,2000.5 854.5,2001.5 855.5,2001.5 855.5,2000.5 855.5,2001.5 855.5,2000.5 856.5,2001.5 856.5,2000.5 856.5,2001.5 857.5,2001.5 858.5,2000.5 858.5,2001.5 858.5,2000.5 859.5,2000.5 859.5,2001.5 860.5,2001.5 860.5,2000.5 860.5,2001.5 860.5,2000.5 861.5,2001.5 862.5,2000.5 863.5,2000.5 864.5,1999.5 864.5,2000.5 865.5,2000.5 866.5,2000.5 867.5,1999.5 867.5,2000.5 867.5,1999.5 868.5,1999.5 869.5,1999.5 870.5,1999.5 870.5,1998.5 870.5,1999.5 870.5,1998.5 871.5,1999.5 871.5,1998.5 871.5,1999.5 872.5,1998.5 872.5,1997.5 872.5,1998.5 872.5,1997.5 873.5,1997.5 873.5,1998.5 873.5,1997.5 874.5,1996.5 874.5,1995.5 874.5,1997.5 874.5,1995.5 875.5,1995.5 875.5,1996.5 875.5,1995.5 876.5,1994.5 876.5,1992.5 876.5,1994.5 876.5,1992.5 877.5,1991.5 877.5,1987.5 877.5,1991.5 877.5,1987.5 878.5,1984.5 878.5,1979.5 878.5,1984.5 878.5,1979.5 879.5,1977.5 879.5,1969.5 879.5,1977.5 879.5,1969.5 880.5,1964.5 880.5,1953.5 880.5,1964.5 880.5,1953.5 881.5,1949.5 881.5,1941.5 881.5,1949.5 881.5,1941.5 882.5,1937.5 883.5,1939.5 883.5,1946.5 884.5,1950.5 884.5,1960.5 885.5,1966.5 885.5,1973.5 886.5,1978.5 886.5,1982.5 887.5,1985.5 887.5,1989.5 888.5,1992.5 888.5,1991.5 888.5,1993.5 889.5,1993.5 889.5,1995.5 890.5,1995.5 890.5,1998.5 890.5,1996.5 891.5,1996.5 891.5,1998.5 891.5,1997.5 892.5,1998.5 893.5,1999.5 893.5,1998.5 893.5,1999.5 893.5,1998.5 894.5,1998.5 894.5,1999.5 895.5,1998.5 895.5,2000.5 896.5,1999.5 897.5,2000.5 897.5,1999.5 897.5,2000.5 898.5,1999.5 898.5,2000.5 898.5,1999.5 899.5,1999.5 899.5,2000.5 900.5,2000.5 901.5,2000.5 902.5,2000.5 903.5,2001.5 903.5,2000.5 903.5,2001.5 903.5,2000.5 904.5,2000.5 905.5,2000.5 905.5,2001.5 906.5,2000.5 907.5,2000.5 908.5,2000.5 909.5,2000.5 910.5,2001.5 910.5,2000.5 910.5,2001.5 910.5,2000.5 911.5,2000.5 912.5,2000.5 913.5,2000.5 914.5,2000.5 915.5,2000.5 916.5,2000.5 916.5,2001.5 916.5,2000.5 917.5,2000.5 918.5,2000.5 919.5,2000.5 920.5,2000.5 921.5,2001.5 921.5,2000.5 921.5,2001.5 921.5,2000.5 922.5,2000.5 923.5,2001.5 923.5,1999.5 923.5,2001.5 923.5,2000.5 924.5,2000.5 925.5,2000.5 926.5,2000.5 926.5,1999.5 926.5,2000.5 926.5,1999.5 927.5,2000.5 928.5,2000.5 929.5,1999.5 929.5,2000.5 929.5,1999.5 930.5,2000.5 931.5,2000.5 931.5,1999.5 931.5,2000.5 932.5,1999.5 933.5,2000.5 933.5,1999.5 933.5,2000.5 933.5,1999.5 934.5,2000.5 934.5,1999.5 934.5,2000.5 934.5,1999.5 935.5,2000.5 935.5,1999.5 935.5,2000.5 935.5,1999.5 936.5,1999.5 937.5,1999.5 937.5,1998.5 937.5,1999.5 938.5,1998.5 938.5,1999.5 938.5,1998.5 939.5,1999.5 939.5,1998.5 939.5,1999.5 939.5,1998.5 940.5,1998.5 941.5,1997.5 941.5,1998.5 942.5,1996.5 942.5,1997.5 943.5,1997.5 943.5,1995.5 943.5,1997.5 943.5,1995.5 944.5,1995.5 945.5,1995.5 945.5,1994.5 945.5,1995.5 945.5,1994.5 946.5,1993.5 947.5,1991.5 947.5,1990.5 947.5,1991.5 947.5,1990.5 948.5,1989.5 948.5,1988.5 948.5,1989.5 948.5,1988.5 949.5,1986.5 949.5,1985.5 949.5,1987.5 949.5,1985.5 950.5,1985.5 950.5,1982.5 950.5,1985.5 950.5,1982.5 951.5,1981.5 951.5,1978.5 951.5,1981.5 951.5,1978.5 952.5,1978.5 952.5,1976.5 952.5,1978.5 952.5,1976.5 953.5,1976.5 953.5,1974.5 953.5,1976.5 953.5,1974.5 954.5,1973.5 954.5,1972.5 954.5,1973.5 954.5,1972.5 955.5,1971.5 955.5,1970.5 955.5,1971.5 955.5,1970.5 956.5,1969.5 956.5,1965.5 956.5,1969.5 956.5,1965.5 957.5,1964.5 957.5,1961.5 957.5,1964.5 957.5,1961.5 958.5,1960.5 958.5,1954.5 958.5,1960.5 958.5,1954.5 959.5,1953.5 959.5,1948.5 959.5,1953.5 959.5,1948.5 960.5,1945.5 960.5,1941.5 960.5,1945.5 960.5,1941.5 961.5,1940.5 961.5,1943.5 962.5,1944.5 962.5,1949.5 963.5,1954.5 963.5,1961.5 964.5,1963.5 964.5,1970.5 965.5,1973.5 965.5,1977.5 966.5,1979.5 966.5,1982.5 967.5,1982.5 967.5,1984.5 968.5,1985.5 968.5,1987.5 969.5,1986.5 969.5,1987.5 970.5,1987.5 970.5,1988.5 971.5,1987.5 972.5,1986.5 972.5,1985.5 972.5,1986.5 973.5,1985.5 973.5,1984.5 973.5,1985.5 973.5,1984.5 974.5,1982.5 974.5,1980.5 974.5,1982.5 974.5,1980.5 975.5,1977.5 975.5,1974.5 975.5,1977.5 975.5,1974.5 976.5,1972.5 976.5,1964.5 976.5,1972.5 976.5,1964.5 977.5,1960.5 977.5,1952.5 977.5,1960.5 977.5,1952.5 978.5,1949.5 978.5,1943.5 978.5,1949.5 978.5,1943.5 979.5,1941.5 979.5,1940.5 979.5,1941.5 980.5,1942.5 980.5,1949.5 981.5,1952.5 981.5,1960.5 982.5,1965.5 982.5,1974.5 983.5,1976.5 983.5,1982.5 984.5,1985.5 984.5,1989.5 985.5,1990.5 985.5,1992.5 986.5,1993.5 986.5,1995.5 987.5,1995.5 987.5,1996.5 988.5,1996.5 988.5,1997.5 989.5,1998.5 990.5,1997.5 990.5,1998.5 991.5,1998.5 991.5,1999.5 992.5,2000.5 992.5,1999.5 992.5,2000.5 992.5,1999.5 993.5,1999.5 993.5,2001.5 994.5,2000.5 994.5,1999.5 994.5,2000.5 994.5,1999.5 995.5,1999.5 995.5,2000.5 996.5,2000.5 996.5,2001.5 997.5,2000.5 998.5,2001.5 998.5,2000.5 998.5,2001.5 998.5,2000.5 999.5,2000.5 1000.5,2000.5 1000.5,2001.5 1001.5,2000.5 1002.5,2000.5 1003.5,2001.5 1004.5,2001.5 1005.5,2001.5 1005.5,2000.5 1005.5,2001.5 1005.5,2000.5 1006.5,2001.5 1007.5,2001.5 1008.5,2001.5 1009.5,2001.5 1010.5,2001.5 1011.5,2001.5 1011.5,2002.5 1011.5,2001.5 1012.5,2002.5 1012.5,2001.5 1012.5,2002.5 1012.5,2001.5 1013.5,2001.5 1013.5,2002.5 1014.5,2001.5 1014.5,2002.5 1015.5,2001.5 1015.5,2002.5 1016.5,2002.5 1016.5,2001.5 1016.5,2002.5 1017.5,2002.5 1018.5,2002.5 1018.5,2001.5 1018.5,2002.5 1019.5,2002.5 1019.5,2001.5 1019.5,2002.5 1020.5,2002.5 1020.5,2001.5 1020.5,2002.5 1021.5,2002.5 1022.5,2002.5 1023.5,2002.5 1024.5,2002.5 1025.5,2002.5 1026.5,2002.5 1027.5,2003.5 1027.5,2002.5 1027.5,2003.5 1027.5,2002.5 1028.5,2003.5 1028.5,2002.5 1028.5,2003.5 1028.5,2002.5 1029.5,2002.5 1030.5,2002.5 1031.5,2002.5 1032.5,2002.5 1033.5,2002.5 1034.5,2003.5 1034.5,2002.5 1034.5,2003.5 1034.5,2002.5 1035.5,2002.5 1035.5,2003.5 1036.5,2003.5 1036.5,2002.5 1036.5,2003.5 1036.5,2002.5 1037.5,2003.5 1037.5,2002.5 1037.5,2003.5 1037.5,2002.5 1038.5,2003.5 1038.5,2002.5 1038.5,2003.5 1038.5,2002.5 1039.5,2002.5 1039.5,2003.5 1039.5,2002.5 1040.5,2003.5 1041.5,2002.5 1041.5,2003.5 1042.5,2003.5 1043.5,2002.5 1043.5,2003.5 1043.5,2002.5 1044.5,2002.5 1044.5,2003.5 1045.5,2002.5 1045.5,2003.5 1046.5,2003.5 1046.5,2002.5 1046.5,2003.5 1046.5,2002.5 1047.5,2003.5 1048.5,2004.5 1048.5,2003.5 1048.5,2004.5 1048.5,2003.5 1049.5,2003.5 1049.5,2002.5 1049.5,2003.5 1050.5,2003.5 1050.5,2002.5 1050.5,2003.5 1050.5,2002.5 1051.5,2003.5 1051.5,2002.5 1051.5,2003.5 1051.5,2002.5 1052.5,2002.5 1052.5,2003.5 1053.5,2003.5 1054.5,2003.5 1055.5,2003.5 1055.5,2002.5 1055.5,2003.5 1055.5,2002.5 1056.5,2003.5 1057.5,2003.5 1058.5,2003.5 1059.5,2004.5 1059.5,2003.5 1059.5,2004.5 1059.5,2003.5 1060.5,2003.5 1060.5,2004.5 1060.5,2003.5 1061.5,2003.5 1062.5,2003.5 1063.5,2003.5 1063.5,2004.5 1064.5,2003.5 1065.5,2003.5 1065.5,2004.5 1066.5,2003.5 1066.5,2004.5 1066.5,2003.5 1067.5,2003.5 1068.5,2004.5 1068.5,2003.5 1068.5,2004.5 1068.5,2003.5 1069.5,2003.5 1069.5,2004.5 1070.5,2003.5 1071.5,2003.5 1071.5,2004.5 1072.5,2003.5 1072.5,2004.5 1073.5,2003.5 1073.5,2004.5 1074.5,2003.5 1075.5,2003.5 1076.5,2003.5 1077.5,2004.5 1077.5,2003.5 1077.5,2004.5 1077.5,2003.5 1078.5,2004.5 1078.5,2003.5 1078.5,2004.5 1079.5,2004.5 1080.5,2004.5 1080.5,2003.5 1080.5,2004.5 1080.5,2003.5 1081.5,2004.5 1082.5,2004.5 1082.5,2003.5 1082.5,2004.5 1083.5,2003.5 1083.5,2004.5 1084.5,2004.5 1084.5,2003.5 1084.5,2004.5 1084.5,2003.5 1085.5,2003.5 1086.5,2004.5 1086.5,2003.5 1086.5,2004.5 1087.5,2003.5 1087.5,2004.5 1087.5,2003.5 1088.5,2003.5 1088.5,2004.5 1089.5,2004.5 1089.5,2003.5 1089.5,2004.5 1090.5,2004.5 1090.5,2003.5 1090.5,2004.5 1090.5,2003.5 1091.5,2004.5 1091.5,2003.5 1091.5,2004.5 1091.5,2003.5 1092.5,2003.5 1092.5,2004.5 1093.5,2004.5 1094.5,2004.5 1095.5,2004.5 1095.5,2003.5 1095.5,2004.5 1096.5,2003.5 1096.5,2004.5 1097.5,2004.5 1098.5,2004.5 1099.5,2003.5 1100.5,2003.5 1100.5,2004.5 1101.5,2004.5 1101.5,2003.5 1101.5,2004.5 1101.5,2003.5 1102.5,2004.5 1102.5,2003.5 1102.5,2004.5 1103.5,2004.5 1103.5,2003.5 1103.5,2004.5 1104.5,2003.5 1104.5,2004.5 1104.5,2003.5 1105.5,2004.5 1105.5,2003.5 1105.5,2004.5 1106.5,2004.5 1107.5,2004.5 1108.5,2004.5 1108.5,2003.5 1108.5,2004.5 1108.5,2003.5 1109.5,2004.5 1109.5,2003.5 1109.5,2004.5 1110.5,2004.5 1110.5,2003.5 1110.5,2004.5 1111.5,2004.5 1111.5,2003.5 1111.5,2004.5 1112.5,2003.5 1113.5,2004.5 1113.5,2003.5 1113.5,2004.5 1113.5,2003.5 1114.5,2003.5 1115.5,2003.5 1116.5,2003.5 1117.5,2002.5 1117.5,2003.5 1118.5,2002.5 1119.5,2003.5 1119.5,2002.5 1119.5,2003.5 1119.5,2002.5 1120.5,2002.5 1120.5,2000.5 1120.5,2002.5 1120.5,2000.5 1121.5,2000.5 1121.5,1999.5 1121.5,2000.5 1121.5,1999.5 1122.5,1998.5 1122.5,1996.5 1122.5,1998.5 1122.5,1996.5 1123.5,1996.5 1123.5,1995.5 1123.5,1996.5 1123.5,1995.5 1124.5,1994.5 1124.5,1993.5 1124.5,1994.5 1124.5,1993.5 1125.5,1993.5 1125.5,1994.5 1126.5,1995.5 1126.5,1996.5 1127.5,1997.5 1127.5,1998.5 1128.5,1999.5 1128.5,2000.5 1129.5,2000.5 1129.5,2001.5 1130.5,2001.5 1131.5,2002.5 1131.5,2001.5 1131.5,2002.5 1131.5,2001.5 1132.5,2002.5 1132.5,2001.5 1132.5,2002.5 1132.5,2001.5 1133.5,2001.5 1133.5,2000.5 1133.5,2001.5 1134.5,2000.5 1134.5,1999.5 1134.5,2000.5 1134.5,1999.5 1135.5,1998.5 1135.5,1996.5 1135.5,1998.5 1135.5,1996.5 1136.5,1996.5 1136.5,1993.5 1136.5,1996.5 1136.5,1993.5 1137.5,1992.5 1137.5,1989.5 1137.5,1992.5 1137.5,1989.5 1138.5,1987.5 1138.5,1985.5 1138.5,1987.5 1138.5,1985.5 1139.5,1983.5 1139.5,1982.5 1139.5,1984.5 1139.5,1982.5 1140.5,1983.5 1140.5,1984.5 1141.5,1984.5 1141.5,1988.5 1142.5,1990.5 1142.5,1992.5 1143.5,1995.5 1143.5,1994.5 1143.5,1997.5 1144.5,1997.5 1144.5,1998.5 1145.5,1999.5 1145.5,2000.5 1146.5,2001.5 1146.5,2000.5 1146.5,2001.5 1146.5,2000.5 1147.5,2002.5 1147.5,2001.5 1147.5,2002.5 1147.5,2001.5 1148.5,2002.5 1148.5,2001.5 1148.5,2002.5 1148.5,2001.5 1149.5,2002.5 1149.5,2000.5 1149.5,2002.5 1149.5,2000.5 1150.5,2000.5 1151.5,1999.5 1151.5,2000.5 1151.5,1999.5 1152.5,1999.5 1153.5,1999.5 1153.5,2000.5 1154.5,2000.5 1155.5,2001.5 1155.5,2002.5 1156.5,2002.5 1157.5,2002.5 1157.5,2003.5 1157.5,2002.5 1158.5,2003.5 1159.5,2003.5 1160.5,2004.5 1160.5,2003.5 1160.5,2004.5 1160.5,2003.5 1161.5,2003.5 1161.5,2004.5 1161.5,2003.5 1162.5,2003.5 1162.5,2004.5 1163.5,2004.5 1163.5,2003.5 1163.5,2004.5 1163.5,2003.5 1164.5,2004.5 1165.5,2004.5 1165.5,2003.5 1165.5,2004.5 1166.5,2004.5 1166.5,2003.5 1166.5,2004.5 1167.5,2004.5 1167.5,2003.5 1167.5,2004.5 1167.5,2003.5 1168.5,2004.5 1169.5,2004.5 1170.5,2004.5 1170.5,2003.5 1170.5,2004.5 1170.5,2003.5 1171.5,2004.5 1172.5,2003.5 1172.5,2004.5 1173.5,2004.5 1173.5,2003.5 1173.5,2004.5 1173.5,2003.5 1174.5,2004.5 1175.5,2004.5 1175.5,2003.5 1175.5,2004.5 1176.5,2003.5 1176.5,2004.5 1176.5,2003.5 1177.5,2004.5 1177.5,2003.5 1177.5,2004.5 1178.5,2004.5 1178.5,2003.5 1178.5,2004.5 1179.5,2004.5 1180.5,2003.5 1180.5,2004.5 1181.5,2004.5 1182.5,2003.5 1183.5,2004.5 1183.5,2003.5 1183.5,2004.5 1184.5,2004.5 1184.5,2003.5 1184.5,2004.5 1184.5,2003.5 1185.5,2003.5 1186.5,2003.5 1187.5,2003.5 1188.5,2003.5 1189.5,2003.5 1190.5,2002.5 1190.5,2003.5 1191.5,2002.5 1191.5,2001.5 1191.5,2002.5 1191.5,2001.5 1192.5,2002.5 1193.5,2001.5 1194.5,2001.5 1194.5,2000.5 1194.5,2001.5 1194.5,2000.5 1195.5,1998.5 1195.5,1997.5 1195.5,1998.5 1195.5,1997.5 1196.5,1997.5 1196.5,1995.5 1196.5,1997.5 1196.5,1995.5 1197.5,1994.5 1197.5,1993.5 1197.5,1995.5 1197.5,1993.5 1198.5,1991.5 1199.5,1991.5 1199.5,1989.5 1199.5,1991.5 1199.5,1990.5 1200.5,1990.5 1200.5,1991.5 1201.5,1992.5 1201.5,1993.5 1202.5,1993.5 1202.5,1994.5 1203.5,1995.5 1203.5,1996.5 1204.5,1997.5 1205.5,1997.5 1206.5,1997.5 1206.5,1996.5 1206.5,1997.5 1207.5,1997.5 1207.5,1996.5 1207.5,1997.5 1207.5,1996.5 1208.5,1996.5 1208.5,1997.5 1208.5,1996.5 1209.5,1996.5 1210.5,1996.5 1210.5,1995.5 1210.5,1996.5 1210.5,1995.5 1211.5,1995.5 1211.5,1996.5 1212.5,1995.5 1212.5,1996.5 1213.5,1996.5 1213.5,1997.5 1214.5,1997.5 1214.5,1998.5 1215.5,1998.5 1215.5,1997.5 1215.5,1998.5 1216.5,1998.5 1216.5,1999.5 1217.5,1999.5 1217.5,2001.5 1218.5,2000.5 1218.5,2001.5 1219.5,2000.5 1219.5,2001.5 1220.5,2001.5 1220.5,2002.5 1221.5,2001.5 1221.5,2002.5 1222.5,2002.5 1222.5,2003.5 1223.5,2003.5 1224.5,2003.5 1225.5,2002.5 1225.5,2003.5 1226.5,2003.5 1227.5,2003.5 1227.5,2004.5 1227.5,2003.5 1228.5,2004.5 1228.5,2003.5 1228.5,2004.5 1228.5,2003.5 1229.5,2003.5 1230.5,2003.5 1231.5,2004.5 1232.5,2003.5 1233.5,2003.5 1233.5,2004.5 1233.5,2003.5 1234.5,2004.5 1234.5,2003.5 1234.5,2004.5 1235.5,2003.5 1236.5,2003.5 1237.5,2004.5 1237.5,2003.5 1237.5,2004.5 1238.5,2004.5 1238.5,2003.5 1238.5,2004.5 1238.5,2003.5 1239.5,2003.5 1239.5,2002.5 1239.5,2003.5 1240.5,2002.5 1240.5,2000.5 1240.5,2002.5 1240.5,2000.5 1241.5,1999.5 1241.5,1998.5 1241.5,1999.5 1242.5,1998.5 1242.5,2000.5 1243.5,2001.5 1243.5,2002.5 1244.5,2002.5 1244.5,2004.5 1245.5,2003.5 1246.5,2004.5 1246.5,2003.5 1246.5,2004.5 1246.5,2003.5 1247.5,2003.5 1247.5,2004.5 1248.5,2003.5 1248.5,2004.5 1249.5,2004.5 1249.5,2003.5 1249.5,2004.5 1250.5,2003.5 1250.5,2004.5 1250.5,2003.5 1251.5,2004.5 1251.5,2003.5 1251.5,2004.5 1251.5,2003.5 1252.5,2004.5 1253.5,2003.5 1253.5,2004.5 1254.5,2004.5 1255.5,2003.5 1255.5,2004.5 1255.5,2003.5 1256.5,2004.5 1256.5,2003.5 1256.5,2004.5 1256.5,2003.5 1257.5,2004.5 1257.5,2003.5 1257.5,2004.5 1257.5,2003.5 1258.5,2003.5 1259.5,2003.5 1260.5,2003.5 1261.5,2002.5 1261.5,2003.5 1262.5,2002.5 1262.5,2003.5 1262.5,2002.5 1263.5,2002.5 1264.5,2002.5 1264.5,2000.5 1264.5,2002.5 1264.5,2000.5 1265.5,2000.5 1265.5,1999.5 1265.5,2000.5 1265.5,1999.5 1266.5,1999.5 1266.5,1998.5 1266.5,1999.5 1266.5,1998.5 1267.5,1997.5 1267.5,1996.5 1267.5,1997.5 1267.5,1996.5 1268.5,1995.5 1268.5,1994.5 1268.5,1995.5 1268.5,1994.5 1269.5,1993.5 1269.5,1992.5 1269.5,1993.5 1269.5,1992.5 1270.5,1992.5 1270.5,1991.5 1270.5,1992.5 1270.5,1991.5 1271.5,1991.5 1271.5,1992.5 1272.5,1992.5 1272.5,1994.5 1273.5,1995.5 1273.5,1996.5 1274.5,1997.5 1274.5,1998.5 1275.5,1999.5 1276.5,1999.5 1276.5,2000.5 1277.5,2001.5 1277.5,2000.5 1277.5,2001.5 1278.5,2001.5 1278.5,2002.5 1279.5,2001.5 1279.5,2002.5 1280.5,2001.5 1281.5,2002.5 1281.5,2001.5 1281.5,2002.5 1281.5,2001.5 1282.5,2001.5 1283.5,2000.5 1284.5,1999.5 1284.5,1998.5 1284.5,2000.5 1284.5,1998.5 1285.5,1999.5 1285.5,1998.5 1285.5,1999.5 1285.5,1998.5 1286.5,1998.5 1286.5,1999.5 1287.5,1998.5 1287.5,1997.5 1287.5,1998.5 1287.5,1997.5 1288.5,1998.5 1288.5,1999.5 1288.5,1998.5 1289.5,1998.5 1290.5,1999.5 1291.5,1999.5 1291.5,2000.5 1292.5,2000.5 1292.5,2001.5 1293.5,2001.5 1294.5,2002.5 1295.5,2003.5 1295.5,2002.5 1295.5,2003.5 1295.5,2002.5 1296.5,2003.5 1296.5,2002.5 1296.5,2003.5 1296.5,2002.5 1297.5,2003.5 1298.5,2003.5 1298.5,2004.5 1299.5,2004.5 1299.5,2003.5 1299.5,2004.5 1300.5,2003.5 1300.5,2004.5 1300.5,2003.5 1301.5,2004.5 1302.5,2003.5 1302.5,2004.5 1303.5,2004.5 1304.5,2004.5 1305.5,2004.5 1306.5,2004.5 1307.5,2004.5 1308.5,2004.5 1309.5,2004.5 1310.5,2004.5 1311.5,2004.5 1312.5,2004.5 1313.5,2004.5 1314.5,2004.5 1315.5,2004.5 1316.5,2004.5 1317.5,2004.5 1318.5,2004.5 1319.5,2004.5 1320.5,2004.5 1321.5,2004.5 1322.5,2004.5 1323.5,2004.5 1324.5,2004.5 1325.5,2004.5 1326.5,2004.5 1327.5,2004.5 1328.5,2004.5 1329.5,2004.5 1329.5,2005.5 1329.5,2004.5 1330.5,2004.5 1331.5,2004.5 1332.5,2004.5 1333.5,2004.5 1334.5,2004.5 1334.5,2005.5 1334.5,2004.5 1335.5,2004.5 1336.5,2004.5 1337.5,2004.5 1338.5,2004.5 1339.5,2004.5 1340.5,2004.5 1341.5,2004.5 1342.5,2004.5 1343.5,2004.5 1344.5,2004.5 1344.5,2005.5 1344.5,2004.5 1345.5,2004.5 1346.5,2004.5 1347.5,2004.5 1347.5,2005.5 1347.5,2004.5 1348.5,2004.5 1349.5,2004.5 1350.5,2004.5 1351.5,2004.5 1352.5,2004.5 1353.5,2004.5 1353.5,2003.5 1353.5,2004.5 1353.5,2003.5 1354.5,2003.5 1355.5,2002.5 1355.5,2003.5 1356.5,2003.5 1356.5,2002.5 1356.5,2003.5 1356.5,2002.5 1357.5,2002.5 1357.5,2003.5 1358.5,2003.5 1359.5,2004.5 1360.5,2003.5 1360.5,2004.5 1361.5,2003.5 1361.5,2004.5" fill="none" stroke="#ff0000" stroke-width="1" stroke-linejoin="bevel" shape-rendering="crispEdges"/>
<text x="621.7" y="1484.6" font-size="25.3" text-anchor="start" >cal</text>
<text x="501.8" y="1942.9" font-size="25.3" text-anchor="start" >cal</text>
<text x="564.8" y="1980.1" font-size="25.3" text-anchor="start" >qtz</text>
<text x="656.2" y="1972.0" font-size="25.3" text-anchor="start" >dol</text>
<text x="735.9" y="1926.9" font-size="25.3" text-anchor="start" >cal</text>
<text x="799.0" y="1906.6" font-size="25.3" text-anchor="start" >cal</text>
<text x="866.8" y="1918.3" font-size="25.3" text-anchor="start" >cal</text>
<text x="935.2" y="1925.2" font-size="25.3" text-anchor="start" >cal</text>
<text x="972.6" y="1926.9" font-size="25.3" text-anchor="start" >cal</text>
<text x="1115.6" y="1963.1" font-size="25.3" text-anchor="start" >cal</text>
<text x="1181.0" y="1972.0" font-size="25.3" text-anchor="start" >cal</text>
<text x="1225.0" y="1982.1" font-size="25.3" text-anchor="start" >cal</text>
<text x="1259.9" y="1977.6" font-size="25.3" text-anchor="start" >cal</text>
</svg>
</body></html>
